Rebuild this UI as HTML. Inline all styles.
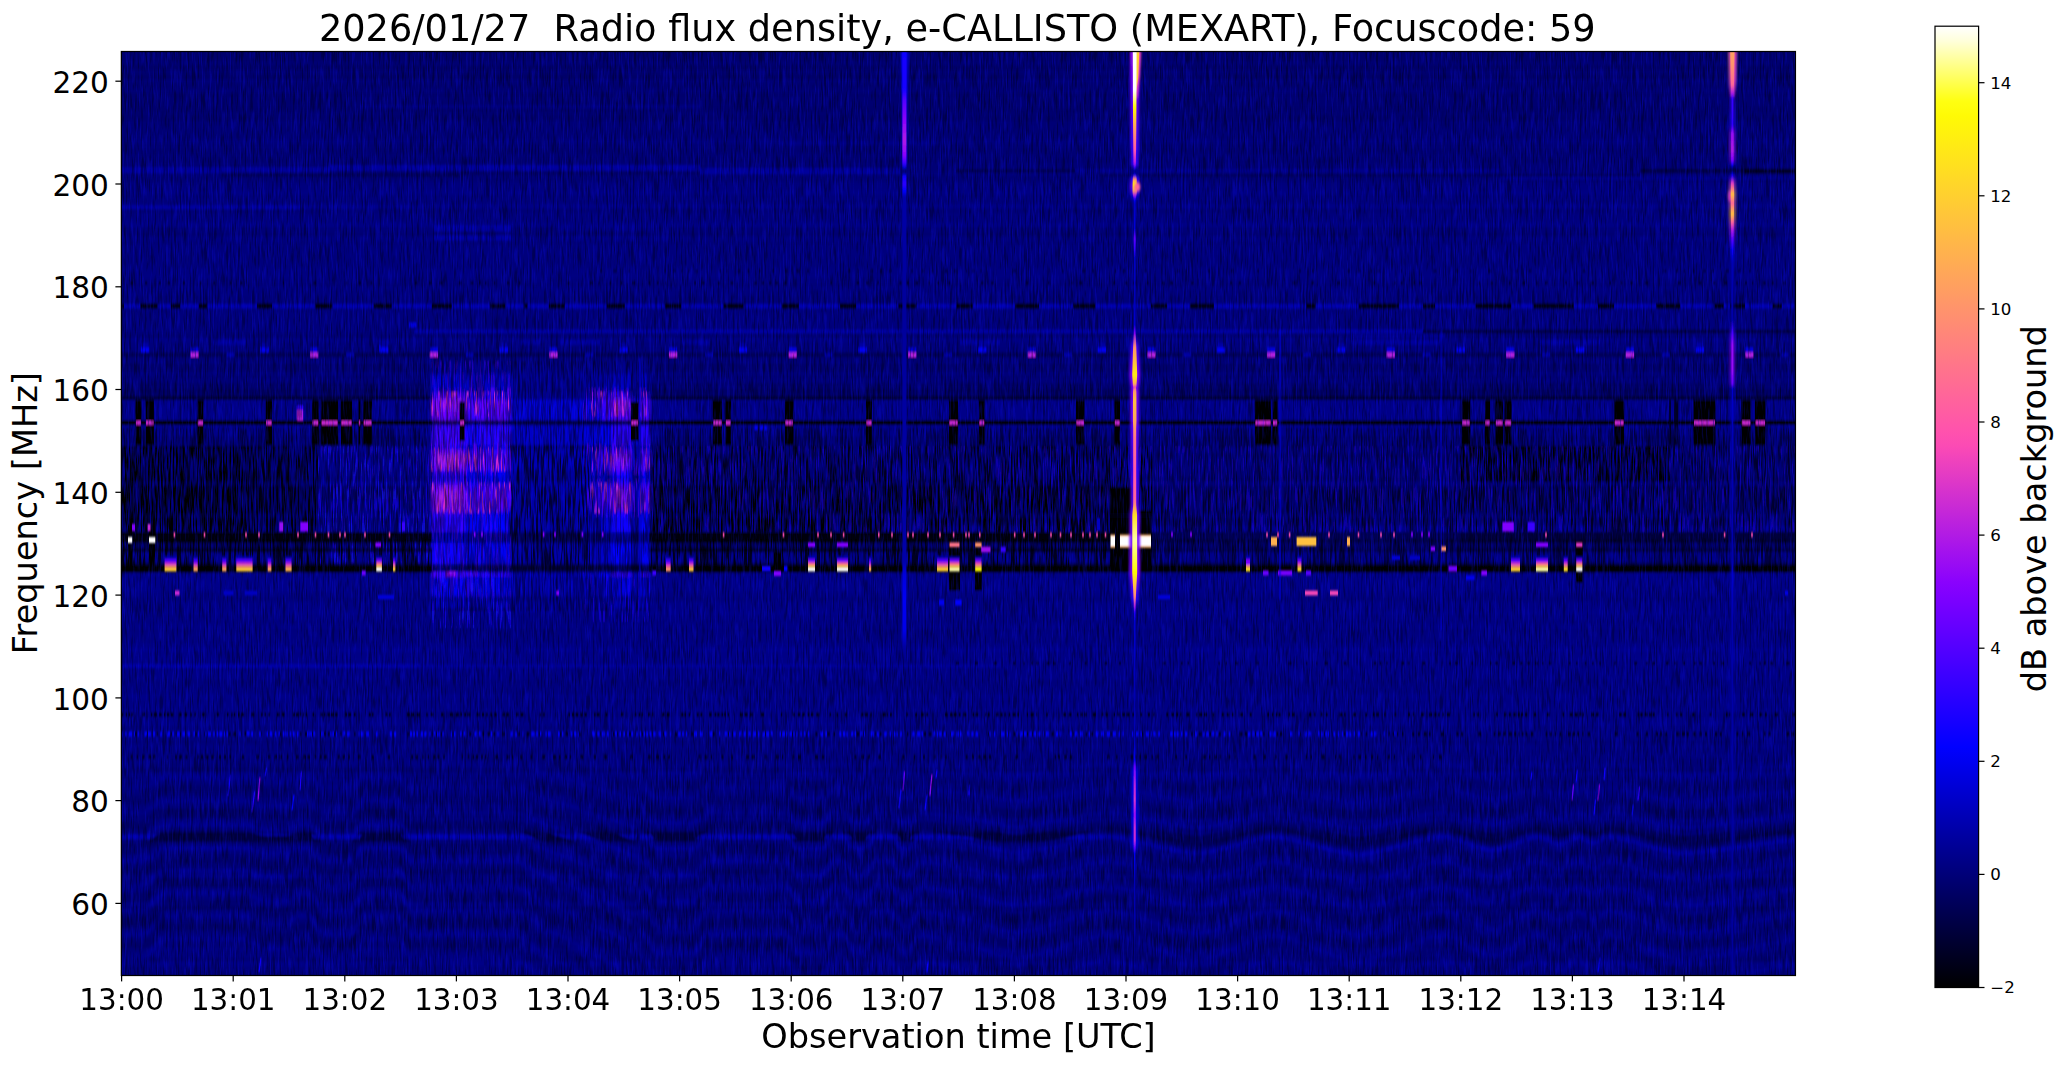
<!DOCTYPE html>
<html lang="en"><head><meta charset="utf-8"><title>e-CALLISTO MEXART spectrogram</title>
<style>html,body{margin:0;padding:0;background:#fff}svg{display:block}text{font-family:"DejaVu Sans","Liberation Sans",sans-serif;fill:#000}</style></head><body>
<svg width="2066" height="1067" viewBox="0 0 2066 1067">
<rect width="2066" height="1067" fill="#fff"/>
<defs>
<linearGradient id="cb" x1="0" y1="0" x2="0" y2="1"><stop offset="0.0000" stop-color="#ffffff"/><stop offset="0.0156" stop-color="#ffffda"/><stop offset="0.0312" stop-color="#ffffa7"/><stop offset="0.0469" stop-color="#ffff75"/><stop offset="0.0625" stop-color="#ffff43"/><stop offset="0.0781" stop-color="#ffff11"/><stop offset="0.0938" stop-color="#fffa05"/><stop offset="0.1094" stop-color="#fff20d"/><stop offset="0.1250" stop-color="#ffea15"/><stop offset="0.1406" stop-color="#ffe21d"/><stop offset="0.1562" stop-color="#ffda25"/><stop offset="0.1719" stop-color="#ffd22d"/><stop offset="0.1875" stop-color="#ffca35"/><stop offset="0.2031" stop-color="#ffc23d"/><stop offset="0.2188" stop-color="#ffba45"/><stop offset="0.2344" stop-color="#ffb24d"/><stop offset="0.2500" stop-color="#ffaa55"/><stop offset="0.2656" stop-color="#ffa25d"/><stop offset="0.2812" stop-color="#ff9a65"/><stop offset="0.2969" stop-color="#ff926d"/><stop offset="0.3125" stop-color="#ff8a75"/><stop offset="0.3281" stop-color="#ff827d"/><stop offset="0.3438" stop-color="#ff7a85"/><stop offset="0.3594" stop-color="#ff728d"/><stop offset="0.3750" stop-color="#ff6a95"/><stop offset="0.3906" stop-color="#ff629d"/><stop offset="0.4062" stop-color="#ff5aa5"/><stop offset="0.4219" stop-color="#ff52ad"/><stop offset="0.4375" stop-color="#fb4ab5"/><stop offset="0.4531" stop-color="#ee42bd"/><stop offset="0.4688" stop-color="#e23ac5"/><stop offset="0.4844" stop-color="#d532cd"/><stop offset="0.5000" stop-color="#c92ad5"/><stop offset="0.5156" stop-color="#bc22dd"/><stop offset="0.5312" stop-color="#b01ae5"/><stop offset="0.5469" stop-color="#a312ed"/><stop offset="0.5625" stop-color="#970af5"/><stop offset="0.5781" stop-color="#8a02fd"/><stop offset="0.5938" stop-color="#7e00ff"/><stop offset="0.6094" stop-color="#7100ff"/><stop offset="0.6250" stop-color="#6500ff"/><stop offset="0.6406" stop-color="#5800ff"/><stop offset="0.6562" stop-color="#4c00ff"/><stop offset="0.6719" stop-color="#3f00ff"/><stop offset="0.6875" stop-color="#3300ff"/><stop offset="0.7031" stop-color="#2600ff"/><stop offset="0.7188" stop-color="#1a00ff"/><stop offset="0.7344" stop-color="#0d00ff"/><stop offset="0.7500" stop-color="#0100ff"/><stop offset="0.7656" stop-color="#0000f0"/><stop offset="0.7812" stop-color="#0000e0"/><stop offset="0.7969" stop-color="#0000d0"/><stop offset="0.8125" stop-color="#0000c0"/><stop offset="0.8281" stop-color="#0000b0"/><stop offset="0.8438" stop-color="#0000a0"/><stop offset="0.8594" stop-color="#000090"/><stop offset="0.8750" stop-color="#000080"/><stop offset="0.8906" stop-color="#000070"/><stop offset="0.9062" stop-color="#000060"/><stop offset="0.9219" stop-color="#000050"/><stop offset="0.9375" stop-color="#000040"/><stop offset="0.9531" stop-color="#000030"/><stop offset="0.9688" stop-color="#000020"/><stop offset="0.9844" stop-color="#000010"/><stop offset="1.0000" stop-color="#000000"/></linearGradient>
<filter id="nzD" x="0" y="0" width="1" height="1" color-interpolation-filters="sRGB"><feTurbulence type="fractalNoise" baseFrequency="0.6 0.045" numOctaves="2" seed="3"/><feColorMatrix type="matrix" values="0 0 0 0 0  0 0 0 0 0  0 0 0 0 0  5 0 0 0 -2.45"/></filter>
<filter id="nzB" x="0" y="0" width="1" height="1" color-interpolation-filters="sRGB"><feTurbulence type="fractalNoise" baseFrequency="0.6 0.045" numOctaves="2" seed="11"/><feColorMatrix type="matrix" values="0 0 0 0 0.06  0 0 0 0 0.06  0 0 0 0 1  0 5 0 0 -2.5"/></filter>
<filter id="nzK" x="0" y="0" width="1" height="1" color-interpolation-filters="sRGB"><feTurbulence type="fractalNoise" baseFrequency="0.6 0.035" numOctaves="2" seed="23"/><feColorMatrix type="matrix" values="0 0 0 0 0  0 0 0 0 0  0 0 0 0 0  7 0 0 0 -3.25"/></filter>
<filter id="nzK2" x="0" y="0" width="1" height="1" color-interpolation-filters="sRGB"><feTurbulence type="fractalNoise" baseFrequency="0.6 0.03" numOctaves="2" seed="29"/><feColorMatrix type="matrix" values="0 0 0 0 0  0 0 0 0 0  0 0 0 0 0.02  0 0 7 0 -3.4"/></filter>
<filter id="nzL" x="0" y="0" width="1" height="1" color-interpolation-filters="sRGB"><feTurbulence type="fractalNoise" baseFrequency="0.6 0.035" numOctaves="2" seed="31"/><feColorMatrix type="matrix" values="0 0 0 0 0.1  0 0 0 0 0.05  0 0 0 0 1  0 7 0 0 -3.6"/></filter>
<filter id="nzP" x="0" y="0" width="1" height="1" color-interpolation-filters="sRGB"><feTurbulence type="fractalNoise" baseFrequency="0.5 0.04" numOctaves="2" seed="41"/><feColorMatrix type="matrix" values="0 0 0 0 0.9  0 0 0 0 0.2  0 0 0 0 0.8  0 7 0 0 -3.7"/></filter>
<filter id="nzU" x="0" y="0" width="1" height="1" color-interpolation-filters="sRGB"><feTurbulence type="fractalNoise" baseFrequency="0.5 0.035" numOctaves="2" seed="43"/><feColorMatrix type="matrix" values="0 0 0 0 0.4  0 0 0 0 0.0  0 0 0 0 1  0 0 7 0 -3.5"/></filter>
<filter id="b2" x="-0.5" y="-0.5" width="2" height="2"><feGaussianBlur stdDeviation="1.2"/></filter>
<filter id="b1" x="-0.5" y="-0.5" width="2" height="2"><feGaussianBlur stdDeviation="0.6"/></filter>
<filter id="bx" x="-1" y="-0.1" width="3" height="1.2"><feGaussianBlur stdDeviation="1.1 2.5"/></filter>
<filter id="bw" x="-2" y="-0.1" width="5" height="1.2"><feGaussianBlur stdDeviation="3 4"/></filter>
<clipPath id="pc"><rect x="121.35" y="51.5" width="1674.1" height="924.0"/></clipPath>
<filter id="gb" filterUnits="userSpaceOnUse" x="100" y="30" width="1720" height="970"><feGaussianBlur stdDeviation="0.45 1.25"/></filter>
<filter id="bp" x="-0.05" y="-0.05" width="1.1" height="1.1"><feGaussianBlur stdDeviation="1.6 0.8"/></filter>
<polyline id="wv" points="115,0.0 121,0.0 127,0.0 133,0.0 139,0.0 145,-0.8 151,-4.4 157,-8.7 163,-11.8 169,-12.0 175,-12.0 181,-12.0 187,-12.0 193,-12.0 199,-12.0 205,-12.0 211,-12.0 217,-12.0 223,-12.0 229,-12.0 235,-12.0 241,-12.0 247,-12.0 253,-10.2 259,-7.7 265,-7.0 271,-7.0 277,-7.0 283,-7.0 289,-7.0 295,-11.1 301,-12.0 307,-12.0 313,-10.6 319,-0.6 325,0.0 331,0.0 337,0.0 343,0.0 349,0.0 355,-1.4 361,-11.4 367,-12.0 373,-12.0 379,-12.0 385,-12.0 391,-12.0 397,-12.0 403,-9.4 409,0.0 415,0.0 421,0.0 427,0.0 433,0.0 439,0.0 445,0.0 451,0.0 457,0.0 463,0.0 469,0.0 475,0.0 481,0.0 487,0.0 493,0.0 499,0.0 505,0.0 511,0.0 517,0.7 523,2.7 529,5.3 535,8.2 541,11.2 547,13.9 553,16.3 559,17.9 565,19.4 571,21.8 577,24.7 583,27.7 589,30.5 595,32.8 601,34.2 607,35.9 613,38.1 619,40.7 625,43.5 631,46.0 637,48.0" fill="none" stroke-linejoin="round" vector-effect="non-scaling-stroke"/>
<polyline id="wv2" points="640,0.0 646,0.7 652,9.0 658,12.0 664,12.0 670,12.0 676,12.0 682,12.0 688,12.0 694,12.0 700,6.7 706,0.0 712,0.0 718,0.0 724,0.0 730,0.0 736,0.0 742,0.0 748,0.0 754,0.0 760,0.0 766,0.0 772,0.0 778,0.0 784,0.0 790,2.4 796,12.0 802,12.0 808,12.0 814,12.0 820,12.0 826,9.6 832,0.0 838,0.0 844,0.0 850,9.1 856,12.0 862,12.0 868,9.1 874,0.0 880,0.0 886,0.0 892,0.0 898,9.1 904,12.0 910,12.0 916,3.5 922,0.3 928,1.1 934,2.0 940,3.0 946,3.9 952,4.7 958,5.2 964,5.9 970,6.9 976,8.1 982,9.5 988,10.8 994,12.2 1000,13.5 1006,14.6 1012,15.5 1018,15.9 1024,15.3 1030,14.5 1036,13.5 1042,12.4 1048,11.2 1054,9.9 1060,8.6 1066,7.2 1072,5.9 1078,4.6 1084,3.4 1090,2.3 1096,1.4 1102,0.6" fill="none" stroke-linejoin="round" vector-effect="non-scaling-stroke"/>
<polyline id="wv3" points="1100,0.8 1106,0.2 1112,0.4 1118,1.2 1124,2.1 1130,3.3 1136,4.5 1142,5.9 1148,7.3 1154,8.7 1160,10.2 1166,11.6 1172,12.9 1178,14.1 1184,15.2 1190,16.1 1196,16.8 1202,16.5 1208,15.5 1214,14.3 1220,12.8 1226,11.2 1232,9.5 1238,7.8 1244,6.1 1250,4.4 1256,3.0 1262,1.7 1268,0.6 1274,0.1 1280,0.9 1286,1.9 1292,3.1 1298,4.4 1304,5.9 1310,7.5 1316,9.1 1322,10.7 1328,12.3 1334,13.8 1340,15.1 1346,16.3 1352,17.3 1358,18.0 1364,17.3 1370,16.3 1376,15.1 1382,13.8 1388,12.3 1394,10.7 1400,9.1 1406,7.5 1412,5.9 1418,4.4 1424,3.1 1430,1.9 1436,0.9 1442,0.1 1448,0.8 1454,2.3 1460,4.2 1466,6.3 1472,8.4 1478,10.4 1484,12.2 1490,13.5 1496,13.5 1502,11.9 1508,9.9 1514,7.6 1520,5.2 1526,3.0 1532,1.2 1538,0.0 1544,1.8 1550,4.5 1556,7.0 1562,7.4 1568,4.6 1574,1.4 1580,0.6 1586,3.8 1592,6.7 1598,5.0 1604,1.5 1610,0.2 1616,1.1 1622,2.3 1628,3.7 1634,5.2 1640,6.9 1646,8.6 1652,10.4 1658,12.0 1664,13.6 1670,14.9 1676,16.1 1682,16.9 1688,16.7 1694,16.2 1700,15.6 1706,15.0 1712,14.3 1718,13.5 1724,12.6 1730,11.7 1736,10.8 1742,9.9 1748,9.0 1754,8.1 1760,7.2 1766,6.4 1772,5.6 1778,4.9 1784,4.3 1790,3.7 1796,3.2 1802,3.0" fill="none" stroke-linejoin="round" vector-effect="non-scaling-stroke"/>
<linearGradient id="wvg" gradientUnits="userSpaceOnUse" x1="0" y1="750" x2="0" y2="980"><stop offset="0" stop-color="#000"/><stop offset="0.08" stop-color="#666"/><stop offset="0.3" stop-color="#aaa"/><stop offset="0.37" stop-color="#fff"/><stop offset="0.45" stop-color="#bbb"/><stop offset="1" stop-color="#999"/></linearGradient>
<mask id="wvm" maskUnits="userSpaceOnUse" x="121.35" y="740" width="1674.1" height="260"><rect x="121.35" y="740" width="1674.1" height="260" fill="url(#wvg)"/></mask>
<linearGradient id="wvm2g" gradientUnits="userSpaceOnUse" x1="0" y1="830.5" x2="0" y2="843"><stop offset="0" stop-color="#000"/><stop offset="0.200" stop-color="#fff"/><stop offset="0.800" stop-color="#fff"/><stop offset="1" stop-color="#000"/></linearGradient>
<mask id="wvm2" maskUnits="userSpaceOnUse" x="121.35" y="820" width="1674.1" height="40"><rect x="121.35" y="820" width="1674.1" height="40" fill="url(#wvm2g)"/></mask>
<linearGradient id="wvm3g" gradientUnits="userSpaceOnUse" x1="0" y1="833.6" x2="0" y2="840"><stop offset="0" stop-color="#000"/><stop offset="0.219" stop-color="#fff"/><stop offset="0.781" stop-color="#fff"/><stop offset="1" stop-color="#000"/></linearGradient>
<mask id="wvm3" maskUnits="userSpaceOnUse" x="121.35" y="820" width="1674.1" height="40"><rect x="121.35" y="820" width="1674.1" height="40" fill="url(#wvm3g)"/></mask>
<linearGradient id="g9" gradientUnits="userSpaceOnUse" x1="0" y1="51.5" x2="0" y2="975.55"><stop offset="-0.0005" stop-color="#ffffff" stop-opacity="1"/><stop offset="0.0417" stop-color="#ffffff" stop-opacity="1"/><stop offset="0.0601" stop-color="#fffc03" stop-opacity="1"/><stop offset="0.0828" stop-color="#ffa25d" stop-opacity="1"/><stop offset="0.1066" stop-color="#ff56a9" stop-opacity="1"/><stop offset="0.1207" stop-color="#b01ae5" stop-opacity="1"/><stop offset="0.1261" stop-color="#2300ff" stop-opacity="1"/><stop offset="0.1293" stop-color="#000094" stop-opacity="0"/><stop offset="0.1337" stop-color="#0a00ff" stop-opacity="1"/><stop offset="0.1380" stop-color="#ff847b" stop-opacity="1"/><stop offset="0.1434" stop-color="#fffc03" stop-opacity="1"/><stop offset="0.1499" stop-color="#ffb04f" stop-opacity="1"/><stop offset="0.1553" stop-color="#b01ae5" stop-opacity="1"/><stop offset="0.1596" stop-color="#0a00ff" stop-opacity="1"/><stop offset="0.1650" stop-color="#0000c4" stop-opacity="1"/><stop offset="0.1910" stop-color="#0000d8" stop-opacity="1"/><stop offset="0.2018" stop-color="#5b00ff" stop-opacity="1"/><stop offset="0.2148" stop-color="#2d00ff" stop-opacity="1"/><stop offset="0.2235" stop-color="#0000c4" stop-opacity="1"/><stop offset="0.2689" stop-color="#0000b8" stop-opacity="1"/><stop offset="0.2960" stop-color="#0000d0" stop-opacity="1"/><stop offset="0.3046" stop-color="#8100ff" stop-opacity="1"/><stop offset="0.3198" stop-color="#ff926d" stop-opacity="1"/><stop offset="0.3501" stop-color="#ffec13" stop-opacity="1"/><stop offset="0.3598" stop-color="#ffb04f" stop-opacity="1"/><stop offset="0.3631" stop-color="#df38c7" stop-opacity="1"/><stop offset="0.3663" stop-color="#ff926d" stop-opacity="1"/><stop offset="0.3771" stop-color="#ffc03f" stop-opacity="1"/><stop offset="0.4020" stop-color="#ffa25d" stop-opacity="1"/><stop offset="0.4204" stop-color="#ff748b" stop-opacity="1"/><stop offset="0.4529" stop-color="#ff56a9" stop-opacity="1"/><stop offset="0.4854" stop-color="#ff6699" stop-opacity="1"/><stop offset="0.5016" stop-color="#ffde21" stop-opacity="1"/><stop offset="0.5287" stop-color="#ffffa7" stop-opacity="1"/><stop offset="0.5633" stop-color="#fffc03" stop-opacity="1"/><stop offset="0.5773" stop-color="#ffc03f" stop-opacity="1"/><stop offset="0.5903" stop-color="#ff847b" stop-opacity="1"/><stop offset="0.6001" stop-color="#b01ae5" stop-opacity="1"/><stop offset="0.6066" stop-color="#2300ff" stop-opacity="1"/><stop offset="0.6174" stop-color="#0000cc" stop-opacity="1"/><stop offset="0.6531" stop-color="#0000c4" stop-opacity="1"/><stop offset="0.7018" stop-color="#0000ac" stop-opacity="1"/><stop offset="0.7451" stop-color="#0000b4" stop-opacity="1"/><stop offset="0.7667" stop-color="#0000f0" stop-opacity="1"/><stop offset="0.7743" stop-color="#6800ff" stop-opacity="1"/><stop offset="0.7938" stop-color="#b920df" stop-opacity="1"/><stop offset="0.8100" stop-color="#d532cd" stop-opacity="1"/><stop offset="0.8263" stop-color="#970af5" stop-opacity="1"/><stop offset="0.8403" stop-color="#c92ad5" stop-opacity="1"/><stop offset="0.8533" stop-color="#c92ad5" stop-opacity="1"/><stop offset="0.8620" stop-color="#5200ff" stop-opacity="1"/><stop offset="0.8674" stop-color="#0000f0" stop-opacity="1"/><stop offset="0.8966" stop-color="#0000b8" stop-opacity="1"/><stop offset="0.9507" stop-color="#0000a8" stop-opacity="1"/><stop offset="0.9994" stop-color="#000094" stop-opacity="0"/></linearGradient>
<linearGradient id="g9h" gradientUnits="userSpaceOnUse" x1="0" y1="51.5" x2="0" y2="975.55"><stop offset="-0.0005" stop-color="#970af5" stop-opacity="1"/><stop offset="0.0471" stop-color="#6800ff" stop-opacity="1"/><stop offset="0.1228" stop-color="#2d00ff" stop-opacity="1"/><stop offset="0.1293" stop-color="#000090" stop-opacity="0"/><stop offset="0.1369" stop-color="#2300ff" stop-opacity="1"/><stop offset="0.1456" stop-color="#6800ff" stop-opacity="1"/><stop offset="0.1575" stop-color="#0000d0" stop-opacity="1"/><stop offset="0.1661" stop-color="#000094" stop-opacity="0"/><stop offset="0.3014" stop-color="#000094" stop-opacity="0"/><stop offset="0.3176" stop-color="#3900ff" stop-opacity="1"/><stop offset="0.3501" stop-color="#8100ff" stop-opacity="1"/><stop offset="0.4020" stop-color="#6800ff" stop-opacity="1"/><stop offset="0.4529" stop-color="#3900ff" stop-opacity="1"/><stop offset="0.5070" stop-color="#6800ff" stop-opacity="1"/><stop offset="0.5665" stop-color="#8100ff" stop-opacity="1"/><stop offset="0.5936" stop-color="#2300ff" stop-opacity="1"/><stop offset="0.6098" stop-color="#000094" stop-opacity="0"/><stop offset="0.7667" stop-color="#000094" stop-opacity="0"/><stop offset="0.7776" stop-color="#0000e4" stop-opacity="1"/><stop offset="0.8587" stop-color="#0000e4" stop-opacity="1"/><stop offset="0.8695" stop-color="#000094" stop-opacity="0"/><stop offset="0.9994" stop-color="#000094" stop-opacity="0"/></linearGradient>
<linearGradient id="g14" gradientUnits="userSpaceOnUse" x1="0" y1="51.5" x2="0" y2="975.55"><stop offset="-0.0005" stop-color="#ffa25d" stop-opacity="1"/><stop offset="0.0146" stop-color="#ff926d" stop-opacity="1"/><stop offset="0.0363" stop-color="#ff6699" stop-opacity="1"/><stop offset="0.0449" stop-color="#b01ae5" stop-opacity="1"/><stop offset="0.0503" stop-color="#3900ff" stop-opacity="1"/><stop offset="0.0795" stop-color="#2d00ff" stop-opacity="1"/><stop offset="0.0882" stop-color="#970af5" stop-opacity="1"/><stop offset="0.1066" stop-color="#b01ae5" stop-opacity="1"/><stop offset="0.1174" stop-color="#8100ff" stop-opacity="1"/><stop offset="0.1228" stop-color="#0a00ff" stop-opacity="1"/><stop offset="0.1272" stop-color="#000090" stop-opacity="0"/><stop offset="0.1337" stop-color="#0000fc" stop-opacity="1"/><stop offset="0.1423" stop-color="#df38c7" stop-opacity="1"/><stop offset="0.1499" stop-color="#ff847b" stop-opacity="1"/><stop offset="0.1542" stop-color="#ffc03f" stop-opacity="1"/><stop offset="0.1640" stop-color="#ff6699" stop-opacity="1"/><stop offset="0.1759" stop-color="#ffc03f" stop-opacity="1"/><stop offset="0.1845" stop-color="#ff6699" stop-opacity="1"/><stop offset="0.1932" stop-color="#b01ae5" stop-opacity="1"/><stop offset="0.2040" stop-color="#5200ff" stop-opacity="1"/><stop offset="0.2148" stop-color="#0a00ff" stop-opacity="1"/><stop offset="0.2278" stop-color="#0000b4" stop-opacity="1"/><stop offset="0.2906" stop-color="#0000a8" stop-opacity="1"/><stop offset="0.3025" stop-color="#3900ff" stop-opacity="1"/><stop offset="0.3176" stop-color="#970af5" stop-opacity="1"/><stop offset="0.3447" stop-color="#970af5" stop-opacity="1"/><stop offset="0.3598" stop-color="#6800ff" stop-opacity="1"/><stop offset="0.3642" stop-color="#0000cc" stop-opacity="1"/><stop offset="0.4204" stop-color="#0000b4" stop-opacity="1"/><stop offset="0.5503" stop-color="#0000ac" stop-opacity="1"/><stop offset="0.5665" stop-color="#0000cc" stop-opacity="1"/><stop offset="0.6152" stop-color="#0000ac" stop-opacity="1"/><stop offset="0.8100" stop-color="#0000a0" stop-opacity="1"/><stop offset="0.9994" stop-color="#00009c" stop-opacity="1"/></linearGradient>
<linearGradient id="g7" gradientUnits="userSpaceOnUse" x1="0" y1="51.5" x2="0" y2="975.55"><stop offset="-0.0005" stop-color="#1000ff" stop-opacity="1"/><stop offset="0.0417" stop-color="#1a00ff" stop-opacity="1"/><stop offset="0.0525" stop-color="#5200ff" stop-opacity="1"/><stop offset="0.0741" stop-color="#8a02fd" stop-opacity="1"/><stop offset="0.0958" stop-color="#b01ae5" stop-opacity="1"/><stop offset="0.1120" stop-color="#8a02fd" stop-opacity="1"/><stop offset="0.1207" stop-color="#3900ff" stop-opacity="1"/><stop offset="0.1261" stop-color="#0000d0" stop-opacity="1"/><stop offset="0.1293" stop-color="#000094" stop-opacity="0"/><stop offset="0.1347" stop-color="#0a00ff" stop-opacity="1"/><stop offset="0.1434" stop-color="#2d00ff" stop-opacity="1"/><stop offset="0.1510" stop-color="#0000fc" stop-opacity="1"/><stop offset="0.1575" stop-color="#0000a8" stop-opacity="1"/><stop offset="0.2689" stop-color="#00009c" stop-opacity="1"/><stop offset="0.5503" stop-color="#0000a8" stop-opacity="1"/><stop offset="0.5665" stop-color="#0000dc" stop-opacity="1"/><stop offset="0.5936" stop-color="#0000f4" stop-opacity="1"/><stop offset="0.6260" stop-color="#0000e8" stop-opacity="1"/><stop offset="0.6390" stop-color="#0000b8" stop-opacity="1"/><stop offset="0.6585" stop-color="#000094" stop-opacity="0"/><stop offset="0.9994" stop-color="#000094" stop-opacity="0"/></linearGradient>
</defs>
<g id="spec">
<rect x="121.35" y="51.5" width="1674.1" height="924.0" fill="#000088"/>
<g clip-path="url(#pc)">
<g filter="url(#gb)">
<rect x="106.3" y="36.5" width="1704.1" height="954.0" fill="#000070"/>
<rect x="121.3" y="182.0" width="1674.1" height="176.0" fill="#00007c"/>
<rect x="121.3" y="120.0" width="1674.1" height="62.0" fill="#000074"/>
<rect x="121.3" y="167.2" width="208.7" height="5.8" fill="#000098"/>
<rect x="330.0" y="165.0" width="370.0" height="5.8" fill="#00009c"/>
<rect x="700.0" y="167.8" width="200.0" height="6.2" fill="#000098"/>
<rect x="222.0" y="172.6" width="238.0" height="4.4" fill="#000058"/>
<rect x="460.0" y="171.5" width="240.0" height="4.0" fill="#000060"/>
<rect x="956.0" y="169.2" width="119.0" height="3.6" fill="#000054"/>
<rect x="1075.0" y="168.8" width="425.0" height="3.7" fill="#000088"/>
<rect x="1100.0" y="173.5" width="540.0" height="3.5" fill="#00005c"/>
<rect x="1640.0" y="168.8" width="120.0" height="4.7" fill="#000048"/>
<rect x="1745.0" y="168.8" width="50.5" height="5.0" fill="#000024"/>
<rect x="1500.0" y="176.5" width="295.5" height="3.5" fill="#000088"/>
<rect x="121.3" y="205.5" width="178.7" height="4.0" fill="#000098"/>
<rect x="300.0" y="205.5" width="120.0" height="4.0" fill="#000084"/>
<rect x="434.0" y="225.5" width="77.0" height="6.0" fill="#0000a4"/>
<rect x="434.0" y="235.0" width="77.0" height="5.5" fill="#0000a0"/>
<rect x="560.0" y="226.0" width="90.0" height="5.0" fill="#000088"/>
<rect x="560.0" y="235.5" width="90.0" height="4.5" fill="#000084"/>
<rect x="360.0" y="105.0" width="340.0" height="3.5" fill="#000080"/>
<rect x="780.0" y="142.0" width="160.0" height="3.5" fill="#000080"/>
<rect x="121.3" y="303.8" width="1674.1" height="4.6" fill="#0000ac"/>
<rect x="140.5" y="303.4" width="17.0" height="5.4" fill="#000014"/>
<rect x="198.8" y="303.4" width="8.0" height="5.4" fill="#000014"/>
<rect x="257.1" y="303.4" width="15.0" height="5.4" fill="#000014"/>
<rect x="315.4" y="303.4" width="17.0" height="5.4" fill="#000014"/>
<rect x="373.7" y="303.4" width="18.0" height="5.4" fill="#000014"/>
<rect x="432.0" y="303.4" width="20.0" height="5.4" fill="#000014"/>
<rect x="490.3" y="303.4" width="15.0" height="5.4" fill="#000014"/>
<rect x="548.6" y="303.4" width="16.0" height="5.4" fill="#000014"/>
<rect x="606.9" y="303.4" width="18.0" height="5.4" fill="#000014"/>
<rect x="665.2" y="303.4" width="16.0" height="5.4" fill="#000014"/>
<rect x="723.5" y="303.4" width="20.0" height="5.4" fill="#000014"/>
<rect x="781.8" y="303.4" width="17.0" height="5.4" fill="#000014"/>
<rect x="840.1" y="303.4" width="16.0" height="5.4" fill="#000014"/>
<rect x="898.4" y="303.4" width="18.0" height="5.4" fill="#000014"/>
<rect x="956.7" y="303.4" width="16.0" height="5.4" fill="#000014"/>
<rect x="1015.0" y="303.4" width="24.0" height="5.4" fill="#000014"/>
<rect x="1073.3" y="303.4" width="22.0" height="5.4" fill="#000014"/>
<rect x="1189.9" y="303.4" width="24.0" height="5.4" fill="#000014"/>
<rect x="1306.5" y="303.4" width="9.0" height="5.4" fill="#000014"/>
<rect x="1358.8" y="303.4" width="40.0" height="5.4" fill="#000014"/>
<rect x="1423.1" y="303.4" width="12.0" height="5.4" fill="#000014"/>
<rect x="1475.4" y="303.4" width="36.0" height="5.4" fill="#000014"/>
<rect x="1533.7" y="303.4" width="40.0" height="5.4" fill="#000014"/>
<rect x="1598.0" y="303.4" width="16.0" height="5.4" fill="#000014"/>
<rect x="1656.3" y="303.4" width="24.0" height="5.4" fill="#000014"/>
<rect x="1714.6" y="303.4" width="9.0" height="5.4" fill="#000014"/>
<rect x="1772.9" y="303.4" width="9.0" height="5.4" fill="#000014"/>
<rect x="170.8" y="303.4" width="9.2" height="5.4" fill="#00001c"/>
<rect x="524.5" y="303.4" width="3.0" height="5.4" fill="#00001c"/>
<rect x="1151.0" y="303.4" width="16.0" height="5.4" fill="#00001c"/>
<rect x="1730.0" y="303.4" width="15.0" height="5.4" fill="#00001c"/>
<rect x="121.4" y="303.4" width="2.6" height="5.4" fill="#00001c"/>
<rect x="414.0" y="329.3" width="1009.0" height="4.2" fill="#0000a0"/>
<rect x="1423.0" y="329.6" width="372.5" height="3.6" fill="#00004c"/>
<rect x="1350.0" y="334.0" width="95.0" height="4.0" fill="#000094"/>
<rect x="409.0" y="322.5" width="7.5" height="5.0" fill="#0000d8"/>
<rect x="379.0" y="344.0" width="8.0" height="8.0" fill="#0000d8"/>
<rect x="213.0" y="340.0" width="33.0" height="5.0" fill="#000098"/>
<rect x="377.0" y="340.0" width="15.0" height="5.0" fill="#000098"/>
<rect x="520.0" y="340.0" width="20.0" height="5.0" fill="#000098"/>
<rect x="560.0" y="340.0" width="40.0" height="5.0" fill="#000098"/>
<rect x="680.0" y="340.0" width="30.0" height="5.0" fill="#000098"/>
<rect x="960.0" y="340.0" width="40.0" height="5.0" fill="#000098"/>
<rect x="1350.0" y="340.0" width="90.0" height="5.0" fill="#000098"/>
<rect x="1540.0" y="340.0" width="60.0" height="5.0" fill="#000098"/>
<rect x="121.3" y="352.3" width="1674.1" height="5.0" fill="#000058"/>
<rect x="140.8" y="347.2" width="8.4" height="5.2" fill="#0000f4" filter="url(#b1)"/>
<rect x="141.5" y="342.8" width="7.0" height="4.4" fill="#0000a0"/>
<rect x="190.5" y="352.2" width="8.4" height="5.2" fill="#b920df" filter="url(#b1)"/>
<rect x="190.7" y="347.4" width="8.0" height="4.8" fill="#0000e0"/>
<rect x="226.6" y="352.4" width="8.0" height="4.8" fill="#0000a0"/>
<rect x="260.4" y="347.2" width="8.4" height="5.2" fill="#0000f4" filter="url(#b1)"/>
<rect x="261.1" y="342.8" width="7.0" height="4.4" fill="#0000a0"/>
<rect x="310.1" y="352.2" width="8.4" height="5.2" fill="#b920df" filter="url(#b1)"/>
<rect x="310.3" y="347.4" width="8.0" height="4.8" fill="#0000e0"/>
<rect x="346.2" y="352.4" width="8.0" height="4.8" fill="#0000a0"/>
<rect x="380.0" y="347.2" width="8.4" height="5.2" fill="#0000f4" filter="url(#b1)"/>
<rect x="380.7" y="342.8" width="7.0" height="4.4" fill="#0000a0"/>
<rect x="429.7" y="352.2" width="8.4" height="5.2" fill="#b920df" filter="url(#b1)"/>
<rect x="429.9" y="347.4" width="8.0" height="4.8" fill="#0000e0"/>
<rect x="465.8" y="352.4" width="8.0" height="4.8" fill="#0000a0"/>
<rect x="499.6" y="347.2" width="8.4" height="5.2" fill="#0000f4" filter="url(#b1)"/>
<rect x="500.3" y="342.8" width="7.0" height="4.4" fill="#0000a0"/>
<rect x="549.3" y="352.2" width="8.4" height="5.2" fill="#b920df" filter="url(#b1)"/>
<rect x="549.5" y="347.4" width="8.0" height="4.8" fill="#0000e0"/>
<rect x="585.4" y="352.4" width="8.0" height="4.8" fill="#0000a0"/>
<rect x="619.2" y="347.2" width="8.4" height="5.2" fill="#0000f4" filter="url(#b1)"/>
<rect x="619.9" y="342.8" width="7.0" height="4.4" fill="#0000a0"/>
<rect x="668.9" y="352.2" width="8.4" height="5.2" fill="#b920df" filter="url(#b1)"/>
<rect x="669.1" y="347.4" width="8.0" height="4.8" fill="#0000e0"/>
<rect x="705.0" y="352.4" width="8.0" height="4.8" fill="#0000a0"/>
<rect x="738.8" y="347.2" width="8.4" height="5.2" fill="#0000f4" filter="url(#b1)"/>
<rect x="739.5" y="342.8" width="7.0" height="4.4" fill="#0000a0"/>
<rect x="788.5" y="352.2" width="8.4" height="5.2" fill="#b920df" filter="url(#b1)"/>
<rect x="788.7" y="347.4" width="8.0" height="4.8" fill="#0000e0"/>
<rect x="824.6" y="352.4" width="8.0" height="4.8" fill="#0000a0"/>
<rect x="858.4" y="347.2" width="8.4" height="5.2" fill="#0000f4" filter="url(#b1)"/>
<rect x="859.1" y="342.8" width="7.0" height="4.4" fill="#0000a0"/>
<rect x="908.1" y="352.2" width="8.4" height="5.2" fill="#b920df" filter="url(#b1)"/>
<rect x="908.3" y="347.4" width="8.0" height="4.8" fill="#0000e0"/>
<rect x="944.2" y="352.4" width="8.0" height="4.8" fill="#0000a0"/>
<rect x="978.0" y="347.2" width="8.4" height="5.2" fill="#0000f4" filter="url(#b1)"/>
<rect x="978.7" y="342.8" width="7.0" height="4.4" fill="#0000a0"/>
<rect x="1027.7" y="352.2" width="8.4" height="5.2" fill="#b920df" filter="url(#b1)"/>
<rect x="1027.9" y="347.4" width="8.0" height="4.8" fill="#0000e0"/>
<rect x="1063.8" y="352.4" width="8.0" height="4.8" fill="#0000a0"/>
<rect x="1097.6" y="347.2" width="8.4" height="5.2" fill="#0000f4" filter="url(#b1)"/>
<rect x="1098.3" y="342.8" width="7.0" height="4.4" fill="#0000a0"/>
<rect x="1147.3" y="352.2" width="8.4" height="5.2" fill="#b920df" filter="url(#b1)"/>
<rect x="1147.5" y="347.4" width="8.0" height="4.8" fill="#0000e0"/>
<rect x="1183.4" y="352.4" width="8.0" height="4.8" fill="#0000a0"/>
<rect x="1217.2" y="347.2" width="8.4" height="5.2" fill="#0000f4" filter="url(#b1)"/>
<rect x="1217.9" y="342.8" width="7.0" height="4.4" fill="#0000a0"/>
<rect x="1266.9" y="352.2" width="8.4" height="5.2" fill="#b920df" filter="url(#b1)"/>
<rect x="1267.1" y="347.4" width="8.0" height="4.8" fill="#0000e0"/>
<rect x="1303.0" y="352.4" width="8.0" height="4.8" fill="#0000a0"/>
<rect x="1336.8" y="347.2" width="8.4" height="5.2" fill="#0000f4" filter="url(#b1)"/>
<rect x="1337.5" y="342.8" width="7.0" height="4.4" fill="#0000a0"/>
<rect x="1386.5" y="352.2" width="8.4" height="5.2" fill="#b920df" filter="url(#b1)"/>
<rect x="1386.7" y="347.4" width="8.0" height="4.8" fill="#0000e0"/>
<rect x="1422.6" y="352.4" width="8.0" height="4.8" fill="#0000a0"/>
<rect x="1456.4" y="347.2" width="8.4" height="5.2" fill="#0000f4" filter="url(#b1)"/>
<rect x="1457.1" y="342.8" width="7.0" height="4.4" fill="#0000a0"/>
<rect x="1506.1" y="352.2" width="8.4" height="5.2" fill="#b920df" filter="url(#b1)"/>
<rect x="1506.3" y="347.4" width="8.0" height="4.8" fill="#0000e0"/>
<rect x="1542.2" y="352.4" width="8.0" height="4.8" fill="#0000a0"/>
<rect x="1576.0" y="347.2" width="8.4" height="5.2" fill="#0000f4" filter="url(#b1)"/>
<rect x="1576.7" y="342.8" width="7.0" height="4.4" fill="#0000a0"/>
<rect x="1625.7" y="352.2" width="8.4" height="5.2" fill="#b920df" filter="url(#b1)"/>
<rect x="1625.9" y="347.4" width="8.0" height="4.8" fill="#0000e0"/>
<rect x="1661.8" y="352.4" width="8.0" height="4.8" fill="#0000a0"/>
<rect x="1695.6" y="347.2" width="8.4" height="5.2" fill="#0000f4" filter="url(#b1)"/>
<rect x="1696.3" y="342.8" width="7.0" height="4.4" fill="#0000a0"/>
<rect x="1745.3" y="352.2" width="8.4" height="5.2" fill="#b920df" filter="url(#b1)"/>
<rect x="1745.5" y="347.4" width="8.0" height="4.8" fill="#0000e0"/>
<rect x="1781.4" y="352.4" width="8.0" height="4.8" fill="#0000a0"/>
<rect x="121.3" y="357.5" width="1674.1" height="24.5" fill="#000074"/>
<rect x="121.3" y="382.0" width="1674.1" height="14.0" fill="#00006c"/>
<rect x="121.3" y="396.0" width="1674.1" height="4.0" fill="#000044"/>
<rect x="121.3" y="400.0" width="1674.1" height="20.6" fill="#000088"/>
<rect x="121.3" y="425.0" width="1674.1" height="11.0" fill="#000088"/>
<rect x="121.3" y="436.0" width="1674.1" height="10.0" fill="#00007c"/>
<rect x="121.3" y="445.5" width="1674.1" height="86.5" fill="#000074"/>
<rect x="318.0" y="445.5" width="113.6" height="86.5" fill="#000084"/>
<rect x="121.3" y="364.5" width="1674.1" height="8.0" fill="#000068"/>
<rect x="121.3" y="486.0" width="1674.1" height="14.0" fill="#000068"/>
<rect x="121.3" y="526.0" width="1674.1" height="5.5" fill="#000088"/>
<rect x="121.3" y="539.6" width="1674.1" height="8.4" fill="#00006c"/>
<rect x="121.3" y="552.2" width="1674.1" height="11.8" fill="#000088"/>
<rect x="121.3" y="572.5" width="1674.1" height="27.5" fill="#000088"/>
<rect x="121.3" y="600.0" width="1674.1" height="100.0" fill="#000084"/>
<rect x="121.3" y="700.0" width="1674.1" height="80.0" fill="#000080"/>
<rect x="121.3" y="780.0" width="1674.1" height="195.5" fill="#00007c"/>
<rect x="121.3" y="446.0" width="121.7" height="86.0" filter="url(#nzK)" opacity="1.0"/>
<rect x="121.3" y="446.0" width="121.7" height="86.0" filter="url(#nzK2)" opacity="0.5"/>
<rect x="243.0" y="446.0" width="75.0" height="86.0" filter="url(#nzK)" opacity="0.85"/>
<rect x="243.0" y="470.0" width="75.0" height="62.0" filter="url(#nzK2)" opacity="0.3"/>
<rect x="318.0" y="446.0" width="113.6" height="86.0" filter="url(#nzK)" opacity="0.3"/>
<rect x="318.0" y="446.0" width="113.6" height="118.0" filter="url(#nzL)" opacity="0.6"/>
<rect x="649.5" y="446.0" width="468.5" height="34.0" filter="url(#nzK)" opacity="0.75"/>
<rect x="649.5" y="480.0" width="468.5" height="52.0" filter="url(#nzK)" opacity="0.95"/>
<rect x="649.5" y="480.0" width="468.5" height="52.0" filter="url(#nzK2)" opacity="0.5"/>
<rect x="1118.0" y="446.0" width="34.0" height="86.0" filter="url(#nzK)" opacity="0.9"/>
<rect x="1152.0" y="446.0" width="308.0" height="44.0" filter="url(#nzK)" opacity="0.3"/>
<rect x="1152.0" y="490.0" width="308.0" height="42.0" filter="url(#nzK)" opacity="0.55"/>
<rect x="1460.0" y="446.0" width="210.0" height="36.0" filter="url(#nzK)" opacity="1.0"/>
<rect x="1460.0" y="446.0" width="210.0" height="36.0" filter="url(#nzK2)" opacity="0.85"/>
<rect x="1460.0" y="482.0" width="210.0" height="50.0" filter="url(#nzK)" opacity="0.65"/>
<rect x="1670.0" y="446.0" width="125.5" height="86.0" filter="url(#nzK)" opacity="0.55"/>
<rect x="121.3" y="384.0" width="1674.1" height="16.0" filter="url(#nzK)" opacity="0.2"/>
<rect x="121.3" y="428.0" width="310.2" height="19.0" filter="url(#nzK)" opacity="0.35"/>
<rect x="649.5" y="428.0" width="1146.0" height="19.0" filter="url(#nzK)" opacity="0.35"/>
<rect x="121.3" y="539.0" width="310.2" height="26.0" filter="url(#nzK)" opacity="0.75"/>
<rect x="649.5" y="539.0" width="502.5" height="26.0" filter="url(#nzK)" opacity="0.75"/>
<rect x="1152.0" y="539.0" width="643.5" height="26.0" filter="url(#nzK)" opacity="0.5"/>
<rect x="649.5" y="446.0" width="1146.0" height="86.0" filter="url(#nzL)" opacity="0.35"/>
<g filter="url(#bp)">
<rect x="431.6" y="361.0" width="33.7" height="13.3" fill="#000090"/>
<rect x="431.6" y="374.0" width="33.7" height="11.3" fill="#0000c8"/>
<rect x="431.6" y="385.0" width="33.7" height="7.3" fill="#0000d4"/>
<rect x="431.6" y="392.0" width="33.7" height="8.3" fill="#0d00ff"/>
<rect x="431.6" y="400.0" width="33.7" height="20.9" fill="#5b00ff"/>
<rect x="431.6" y="420.6" width="33.7" height="4.7" fill="#00000c"/>
<rect x="431.6" y="425.0" width="33.7" height="20.8" fill="#3600ff"/>
<rect x="431.6" y="445.5" width="33.7" height="4.8" fill="#0400ff"/>
<rect x="431.6" y="450.0" width="33.7" height="20.3" fill="#4900ff"/>
<rect x="431.6" y="470.0" width="33.7" height="14.3" fill="#1a00ff"/>
<rect x="431.6" y="484.0" width="33.7" height="27.3" fill="#4600ff"/>
<rect x="431.6" y="511.0" width="33.7" height="21.3" fill="#2000ff"/>
<rect x="431.6" y="532.0" width="33.7" height="11.3" fill="#0000a8"/>
<rect x="431.6" y="543.0" width="33.7" height="21.3" fill="#1000ff"/>
<rect x="431.6" y="564.0" width="33.7" height="8.7" fill="#000068"/>
<rect x="431.6" y="572.4" width="33.7" height="4.9" fill="#3c00ff"/>
<rect x="431.6" y="577.0" width="33.7" height="19.3" fill="#0000f0"/>
<rect x="431.6" y="596.0" width="33.7" height="12.3" fill="#0000b0"/>
<rect x="465.0" y="361.0" width="15.3" height="13.3" fill="#000088"/>
<rect x="465.0" y="374.0" width="15.3" height="11.3" fill="#0000b0"/>
<rect x="465.0" y="385.0" width="15.3" height="7.3" fill="#0000b8"/>
<rect x="465.0" y="392.0" width="15.3" height="8.3" fill="#0000d8"/>
<rect x="465.0" y="400.0" width="15.3" height="20.9" fill="#3000ff"/>
<rect x="465.0" y="420.6" width="15.3" height="4.7" fill="#000008"/>
<rect x="465.0" y="425.0" width="15.3" height="20.8" fill="#1000ff"/>
<rect x="465.0" y="445.5" width="15.3" height="4.8" fill="#0000d8"/>
<rect x="465.0" y="450.0" width="15.3" height="20.3" fill="#1a00ff"/>
<rect x="465.0" y="470.0" width="15.3" height="14.3" fill="#0000e8"/>
<rect x="465.0" y="484.0" width="15.3" height="27.3" fill="#1400ff"/>
<rect x="465.0" y="511.0" width="15.3" height="21.3" fill="#0000f0"/>
<rect x="465.0" y="532.0" width="15.3" height="11.3" fill="#000088"/>
<rect x="465.0" y="543.0" width="15.3" height="21.3" fill="#0000e0"/>
<rect x="465.0" y="564.0" width="15.3" height="8.7" fill="#000050"/>
<rect x="465.0" y="572.4" width="15.3" height="4.9" fill="#1000ff"/>
<rect x="465.0" y="577.0" width="15.3" height="19.3" fill="#0000cc"/>
<rect x="465.0" y="596.0" width="15.3" height="12.3" fill="#0000a0"/>
<rect x="480.0" y="361.0" width="30.7" height="13.3" fill="#00008c"/>
<rect x="480.0" y="374.0" width="30.7" height="11.3" fill="#0000b8"/>
<rect x="480.0" y="385.0" width="30.7" height="7.3" fill="#0000c0"/>
<rect x="480.0" y="392.0" width="30.7" height="8.3" fill="#0000ec"/>
<rect x="480.0" y="400.0" width="30.7" height="20.9" fill="#3f00ff"/>
<rect x="480.0" y="420.6" width="30.7" height="4.7" fill="#000008"/>
<rect x="480.0" y="425.0" width="30.7" height="20.8" fill="#2000ff"/>
<rect x="480.0" y="445.5" width="30.7" height="4.8" fill="#0000e4"/>
<rect x="480.0" y="450.0" width="30.7" height="20.3" fill="#2900ff"/>
<rect x="480.0" y="470.0" width="30.7" height="14.3" fill="#0000f8"/>
<rect x="480.0" y="484.0" width="30.7" height="27.3" fill="#2600ff"/>
<rect x="480.0" y="511.0" width="30.7" height="21.3" fill="#0100ff"/>
<rect x="480.0" y="532.0" width="30.7" height="11.3" fill="#000090"/>
<rect x="480.0" y="543.0" width="30.7" height="21.3" fill="#0000f0"/>
<rect x="480.0" y="564.0" width="30.7" height="8.7" fill="#000058"/>
<rect x="480.0" y="572.4" width="30.7" height="4.9" fill="#2000ff"/>
<rect x="480.0" y="577.0" width="30.7" height="19.3" fill="#0000d8"/>
<rect x="480.0" y="596.0" width="30.7" height="12.3" fill="#0000a8"/>
<rect x="510.4" y="361.0" width="72.9" height="13.3" fill="#000080"/>
<rect x="510.4" y="374.0" width="72.9" height="11.3" fill="#000090"/>
<rect x="510.4" y="385.0" width="72.9" height="7.3" fill="#00008c"/>
<rect x="510.4" y="392.0" width="72.9" height="8.3" fill="#000094"/>
<rect x="510.4" y="400.0" width="72.9" height="20.9" fill="#0000d8"/>
<rect x="510.4" y="420.6" width="72.9" height="4.7" fill="#000000"/>
<rect x="510.4" y="425.0" width="72.9" height="20.8" fill="#0000c4"/>
<rect x="510.4" y="445.5" width="72.9" height="4.8" fill="#00009c"/>
<rect x="510.4" y="450.0" width="72.9" height="20.3" fill="#0000b4"/>
<rect x="510.4" y="470.0" width="72.9" height="14.3" fill="#0000a0"/>
<rect x="510.4" y="484.0" width="72.9" height="27.3" fill="#0000ac"/>
<rect x="510.4" y="511.0" width="72.9" height="21.3" fill="#0000a8"/>
<rect x="510.4" y="532.0" width="72.9" height="11.3" fill="#000054"/>
<rect x="510.4" y="543.0" width="72.9" height="21.3" fill="#0000a0"/>
<rect x="510.4" y="564.0" width="72.9" height="8.7" fill="#000030"/>
<rect x="510.4" y="572.4" width="72.9" height="4.9" fill="#0000b8"/>
<rect x="510.4" y="577.0" width="72.9" height="19.3" fill="#0000a0"/>
<rect x="510.4" y="596.0" width="72.9" height="12.3" fill="#00008c"/>
<rect x="583.0" y="361.0" width="17.3" height="13.3" fill="#000080"/>
<rect x="583.0" y="374.0" width="17.3" height="11.3" fill="#000098"/>
<rect x="583.0" y="385.0" width="17.3" height="7.3" fill="#000094"/>
<rect x="583.0" y="392.0" width="17.3" height="8.3" fill="#0000a4"/>
<rect x="583.0" y="400.0" width="17.3" height="20.9" fill="#0000ec"/>
<rect x="583.0" y="420.6" width="17.3" height="4.7" fill="#000000"/>
<rect x="583.0" y="425.0" width="17.3" height="20.8" fill="#0000d4"/>
<rect x="583.0" y="445.5" width="17.3" height="4.8" fill="#0000a8"/>
<rect x="583.0" y="450.0" width="17.3" height="20.3" fill="#0000c8"/>
<rect x="583.0" y="470.0" width="17.3" height="14.3" fill="#0000b0"/>
<rect x="583.0" y="484.0" width="17.3" height="27.3" fill="#0000c0"/>
<rect x="583.0" y="511.0" width="17.3" height="21.3" fill="#0000b8"/>
<rect x="583.0" y="532.0" width="17.3" height="11.3" fill="#000060"/>
<rect x="583.0" y="543.0" width="17.3" height="21.3" fill="#0000ac"/>
<rect x="583.0" y="564.0" width="17.3" height="8.7" fill="#000038"/>
<rect x="583.0" y="572.4" width="17.3" height="4.9" fill="#0000c8"/>
<rect x="583.0" y="577.0" width="17.3" height="19.3" fill="#0000a8"/>
<rect x="583.0" y="596.0" width="17.3" height="12.3" fill="#000090"/>
<rect x="600.0" y="361.0" width="12.3" height="13.3" fill="#000084"/>
<rect x="600.0" y="374.0" width="12.3" height="11.3" fill="#0000a4"/>
<rect x="600.0" y="385.0" width="12.3" height="7.3" fill="#0000a4"/>
<rect x="600.0" y="392.0" width="12.3" height="8.3" fill="#0000bc"/>
<rect x="600.0" y="400.0" width="12.3" height="20.9" fill="#1000ff"/>
<rect x="600.0" y="420.6" width="12.3" height="4.7" fill="#000004"/>
<rect x="600.0" y="425.0" width="12.3" height="20.8" fill="#0000f0"/>
<rect x="600.0" y="445.5" width="12.3" height="4.8" fill="#0000bc"/>
<rect x="600.0" y="450.0" width="12.3" height="20.3" fill="#0000ec"/>
<rect x="600.0" y="470.0" width="12.3" height="14.3" fill="#0000c8"/>
<rect x="600.0" y="484.0" width="12.3" height="27.3" fill="#0000e4"/>
<rect x="600.0" y="511.0" width="12.3" height="21.3" fill="#0000d0"/>
<rect x="600.0" y="532.0" width="12.3" height="11.3" fill="#000070"/>
<rect x="600.0" y="543.0" width="12.3" height="21.3" fill="#0000c4"/>
<rect x="600.0" y="564.0" width="12.3" height="8.7" fill="#000044"/>
<rect x="600.0" y="572.4" width="12.3" height="4.9" fill="#0000e8"/>
<rect x="600.0" y="577.0" width="12.3" height="19.3" fill="#0000b8"/>
<rect x="600.0" y="596.0" width="12.3" height="12.3" fill="#000098"/>
<rect x="612.0" y="361.0" width="19.3" height="13.3" fill="#00008c"/>
<rect x="612.0" y="374.0" width="19.3" height="11.3" fill="#0000bc"/>
<rect x="612.0" y="385.0" width="19.3" height="7.3" fill="#0000c4"/>
<rect x="612.0" y="392.0" width="19.3" height="8.3" fill="#0000f8"/>
<rect x="612.0" y="400.0" width="19.3" height="20.9" fill="#4900ff"/>
<rect x="612.0" y="420.6" width="19.3" height="4.7" fill="#00000c"/>
<rect x="612.0" y="425.0" width="19.3" height="20.8" fill="#2900ff"/>
<rect x="612.0" y="445.5" width="19.3" height="4.8" fill="#0000f0"/>
<rect x="612.0" y="450.0" width="19.3" height="20.3" fill="#3600ff"/>
<rect x="612.0" y="470.0" width="19.3" height="14.3" fill="#0700ff"/>
<rect x="612.0" y="484.0" width="19.3" height="27.3" fill="#3000ff"/>
<rect x="612.0" y="511.0" width="19.3" height="21.3" fill="#0a00ff"/>
<rect x="612.0" y="532.0" width="19.3" height="11.3" fill="#000098"/>
<rect x="612.0" y="543.0" width="19.3" height="21.3" fill="#0000fc"/>
<rect x="612.0" y="564.0" width="19.3" height="8.7" fill="#00005c"/>
<rect x="612.0" y="572.4" width="19.3" height="4.9" fill="#2900ff"/>
<rect x="612.0" y="577.0" width="19.3" height="19.3" fill="#0000dc"/>
<rect x="612.0" y="596.0" width="19.3" height="12.3" fill="#0000a8"/>
<rect x="631.0" y="361.0" width="9.9" height="13.3" fill="#000080"/>
<rect x="631.0" y="374.0" width="9.9" height="11.3" fill="#00008c"/>
<rect x="631.0" y="385.0" width="9.9" height="7.3" fill="#000088"/>
<rect x="631.0" y="392.0" width="9.9" height="8.3" fill="#000090"/>
<rect x="631.0" y="400.0" width="9.9" height="20.9" fill="#0000d4"/>
<rect x="631.0" y="420.6" width="9.9" height="4.7" fill="#000000"/>
<rect x="631.0" y="425.0" width="9.9" height="20.8" fill="#0000c0"/>
<rect x="631.0" y="445.5" width="9.9" height="4.8" fill="#000098"/>
<rect x="631.0" y="450.0" width="9.9" height="20.3" fill="#0000ac"/>
<rect x="631.0" y="470.0" width="9.9" height="14.3" fill="#00009c"/>
<rect x="631.0" y="484.0" width="9.9" height="27.3" fill="#0000a8"/>
<rect x="631.0" y="511.0" width="9.9" height="21.3" fill="#0000a4"/>
<rect x="631.0" y="532.0" width="9.9" height="11.3" fill="#000050"/>
<rect x="631.0" y="543.0" width="9.9" height="21.3" fill="#00009c"/>
<rect x="631.0" y="564.0" width="9.9" height="8.7" fill="#00002c"/>
<rect x="631.0" y="572.4" width="9.9" height="4.9" fill="#0000b0"/>
<rect x="631.0" y="577.0" width="9.9" height="19.3" fill="#00009c"/>
<rect x="631.0" y="596.0" width="9.9" height="12.3" fill="#00008c"/>
<rect x="640.6" y="361.0" width="9.2" height="13.3" fill="#00008c"/>
<rect x="640.6" y="374.0" width="9.2" height="11.3" fill="#0000b8"/>
<rect x="640.6" y="385.0" width="9.2" height="7.3" fill="#0000c0"/>
<rect x="640.6" y="392.0" width="9.2" height="8.3" fill="#0000ec"/>
<rect x="640.6" y="400.0" width="9.2" height="20.9" fill="#3f00ff"/>
<rect x="640.6" y="420.6" width="9.2" height="4.7" fill="#000008"/>
<rect x="640.6" y="425.0" width="9.2" height="20.8" fill="#2000ff"/>
<rect x="640.6" y="445.5" width="9.2" height="4.8" fill="#0000e4"/>
<rect x="640.6" y="450.0" width="9.2" height="20.3" fill="#2900ff"/>
<rect x="640.6" y="470.0" width="9.2" height="14.3" fill="#0000f8"/>
<rect x="640.6" y="484.0" width="9.2" height="27.3" fill="#2600ff"/>
<rect x="640.6" y="511.0" width="9.2" height="21.3" fill="#0100ff"/>
<rect x="640.6" y="532.0" width="9.2" height="11.3" fill="#000090"/>
<rect x="640.6" y="543.0" width="9.2" height="21.3" fill="#0000f0"/>
<rect x="640.6" y="564.0" width="9.2" height="8.7" fill="#000058"/>
<rect x="640.6" y="572.4" width="9.2" height="4.9" fill="#2000ff"/>
<rect x="640.6" y="577.0" width="9.2" height="19.3" fill="#0000d8"/>
<rect x="640.6" y="596.0" width="9.2" height="12.3" fill="#0000a8"/>
</g>
<rect x="431.8" y="571.6" width="46.2" height="4.4" fill="#3f00ff"/>
<rect x="446.0" y="571.6" width="10.0" height="4.4" fill="#970af5"/>
<g filter="url(#bw)">
<rect x="434.0" y="394.0" width="32.0" height="20.0" fill="#8a02fd" opacity="0.7"/>
<rect x="470.0" y="394.0" width="38.0" height="20.0" fill="#6500ff" opacity="0.4"/>
<rect x="596.0" y="394.0" width="34.0" height="20.0" fill="#6e00ff" opacity="0.45"/>
<rect x="614.0" y="397.0" width="15.0" height="14.0" fill="#b01ae5" opacity="0.5"/>
<rect x="641.5" y="394.0" width="7.0" height="20.0" fill="#6e00ff" opacity="0.45"/>
<rect x="434.0" y="451.0" width="32.0" height="18.0" fill="#8a02fd" opacity="0.7"/>
<rect x="470.0" y="451.0" width="38.0" height="18.0" fill="#6500ff" opacity="0.4"/>
<rect x="596.0" y="451.0" width="34.0" height="18.0" fill="#6e00ff" opacity="0.45"/>
<rect x="614.0" y="454.0" width="15.0" height="12.0" fill="#b01ae5" opacity="0.5"/>
<rect x="641.5" y="451.0" width="7.0" height="18.0" fill="#6e00ff" opacity="0.45"/>
<rect x="434.0" y="486.0" width="32.0" height="24.0" fill="#8a02fd" opacity="0.7"/>
<rect x="470.0" y="486.0" width="38.0" height="24.0" fill="#6500ff" opacity="0.4"/>
<rect x="596.0" y="486.0" width="34.0" height="24.0" fill="#6e00ff" opacity="0.45"/>
<rect x="614.0" y="489.0" width="15.0" height="18.0" fill="#b01ae5" opacity="0.5"/>
<rect x="641.5" y="486.0" width="7.0" height="24.0" fill="#6e00ff" opacity="0.45"/>
<rect x="436.0" y="454.0" width="26.0" height="12.0" fill="#df38c7" opacity="0.55"/>
<rect x="436.0" y="490.0" width="26.0" height="18.0" fill="#df38c7" opacity="0.55"/>
<rect x="436.0" y="398.0" width="26.0" height="14.0" fill="#b01ae5" opacity="0.4"/>
</g>
<rect x="431.6" y="392.0" width="78.8" height="24.0" filter="url(#nzP)" opacity="0.85"/>
<rect x="590.0" y="392.0" width="41.0" height="24.0" filter="url(#nzP)" opacity="0.7"/>
<rect x="640.6" y="392.0" width="8.9" height="24.0" filter="url(#nzP)" opacity="0.7"/>
<rect x="431.6" y="388.0" width="78.8" height="32.0" filter="url(#nzU)" opacity="0.6"/>
<rect x="583.0" y="388.0" width="66.5" height="32.0" filter="url(#nzU)" opacity="0.5"/>
<rect x="431.6" y="448.0" width="78.8" height="23.0" filter="url(#nzP)" opacity="0.85"/>
<rect x="590.0" y="448.0" width="41.0" height="23.0" filter="url(#nzP)" opacity="0.7"/>
<rect x="640.6" y="448.0" width="8.9" height="23.0" filter="url(#nzP)" opacity="0.7"/>
<rect x="431.6" y="444.0" width="78.8" height="31.0" filter="url(#nzU)" opacity="0.6"/>
<rect x="583.0" y="444.0" width="66.5" height="31.0" filter="url(#nzU)" opacity="0.5"/>
<rect x="431.6" y="483.0" width="78.8" height="30.0" filter="url(#nzP)" opacity="0.85"/>
<rect x="590.0" y="483.0" width="41.0" height="30.0" filter="url(#nzP)" opacity="0.7"/>
<rect x="640.6" y="483.0" width="8.9" height="30.0" filter="url(#nzP)" opacity="0.7"/>
<rect x="431.6" y="479.0" width="78.8" height="38.0" filter="url(#nzU)" opacity="0.6"/>
<rect x="583.0" y="479.0" width="66.5" height="38.0" filter="url(#nzU)" opacity="0.5"/>
<rect x="431.6" y="361.0" width="78.8" height="237.0" filter="url(#nzU)" opacity="0.3"/>
<rect x="431.6" y="572.0" width="78.8" height="56.0" filter="url(#nzL)" opacity="0.55"/>
<rect x="583.0" y="572.0" width="66.5" height="50.0" filter="url(#nzL)" opacity="0.45"/>
<rect x="510.4" y="572.0" width="72.6" height="40.0" filter="url(#nzL)" opacity="0.25"/>
<rect x="431.6" y="361.0" width="217.9" height="250.0" filter="url(#nzK)" opacity="0.3"/>
<rect x="510.4" y="445.0" width="79.6" height="120.0" filter="url(#nzK)" opacity="0.5"/>
<rect x="121.3" y="420.6" width="310.2" height="4.4" fill="#000000"/>
<rect x="121.3" y="532.3" width="310.2" height="10.3" fill="#000000" opacity="0.85"/>
<rect x="121.3" y="548.0" width="310.2" height="4.2" fill="#000000" opacity="0.45"/>
<rect x="121.3" y="565.0" width="310.2" height="7.4" fill="#000000"/>
<rect x="121.3" y="562.5" width="310.2" height="2.5" fill="#000000" opacity="0.3"/>
<rect x="649.5" y="420.6" width="502.5" height="4.4" fill="#000000"/>
<rect x="649.5" y="532.3" width="502.5" height="10.3" fill="#000000" opacity="0.85"/>
<rect x="649.5" y="548.0" width="502.5" height="4.2" fill="#000000" opacity="0.45"/>
<rect x="649.5" y="565.0" width="502.5" height="7.4" fill="#000000"/>
<rect x="649.5" y="562.5" width="502.5" height="2.5" fill="#000000" opacity="0.3"/>
<rect x="1152.0" y="420.6" width="308.0" height="4.4" fill="#000000"/>
<rect x="1152.0" y="532.3" width="308.0" height="10.3" fill="#000000" opacity="0.255"/>
<rect x="1152.0" y="548.0" width="308.0" height="4.2" fill="#000000" opacity="0.135"/>
<rect x="1152.0" y="565.0" width="308.0" height="7.4" fill="#000000"/>
<rect x="1152.0" y="562.5" width="308.0" height="2.5" fill="#000000" opacity="0.3"/>
<rect x="1460.0" y="420.6" width="335.5" height="4.4" fill="#000000"/>
<rect x="1460.0" y="532.3" width="335.5" height="10.3" fill="#000000" opacity="0.4675"/>
<rect x="1460.0" y="548.0" width="335.5" height="4.2" fill="#000000" opacity="0.24750000000000003"/>
<rect x="1460.0" y="565.0" width="335.5" height="7.4" fill="#000000"/>
<rect x="1460.0" y="562.5" width="335.5" height="2.5" fill="#000000" opacity="0.3"/>
<rect x="135.6" y="400.3" width="5.6" height="45.0" fill="#000000"/>
<rect x="135.9" y="420.8" width="5.0" height="4.0" fill="#cc2cd3"/>
<rect x="145.7" y="400.3" width="8.2" height="45.0" fill="#000000"/>
<rect x="146.0" y="420.8" width="7.6" height="4.0" fill="#cc2cd3"/>
<rect x="197.5" y="400.3" width="5.9" height="45.0" fill="#000000"/>
<rect x="197.8" y="420.8" width="5.3" height="4.0" fill="#cc2cd3"/>
<rect x="265.8" y="400.3" width="6.2" height="45.0" fill="#000000"/>
<rect x="266.1" y="420.8" width="5.6" height="4.0" fill="#cc2cd3"/>
<rect x="312.2" y="400.3" width="6.4" height="45.0" fill="#000000"/>
<rect x="312.5" y="420.8" width="5.8" height="4.0" fill="#cc2cd3"/>
<rect x="321.2" y="400.3" width="16.8" height="45.0" fill="#000000"/>
<rect x="321.5" y="420.8" width="16.2" height="4.0" fill="#cc2cd3"/>
<rect x="341.0" y="400.3" width="11.0" height="45.0" fill="#000000"/>
<rect x="341.3" y="420.8" width="10.4" height="4.0" fill="#cc2cd3"/>
<rect x="358.5" y="400.3" width="2.0" height="45.0" fill="#000000"/>
<rect x="358.8" y="420.8" width="1.4" height="4.0" fill="#cc2cd3"/>
<rect x="363.3" y="400.3" width="8.7" height="45.0" fill="#000000"/>
<rect x="363.6" y="420.8" width="8.1" height="4.0" fill="#cc2cd3"/>
<rect x="713.0" y="400.3" width="9.0" height="45.0" fill="#000000"/>
<rect x="713.3" y="420.8" width="8.4" height="4.0" fill="#cc2cd3"/>
<rect x="725.5" y="400.3" width="5.5" height="45.0" fill="#000000"/>
<rect x="725.8" y="420.8" width="4.9" height="4.0" fill="#cc2cd3"/>
<rect x="785.0" y="400.3" width="8.3" height="45.0" fill="#000000"/>
<rect x="785.3" y="420.8" width="7.7" height="4.0" fill="#cc2cd3"/>
<rect x="866.0" y="400.3" width="6.0" height="45.0" fill="#000000"/>
<rect x="866.3" y="420.8" width="5.4" height="4.0" fill="#cc2cd3"/>
<rect x="949.0" y="400.3" width="9.0" height="45.0" fill="#000000"/>
<rect x="949.3" y="420.8" width="8.4" height="4.0" fill="#cc2cd3"/>
<rect x="979.0" y="400.3" width="5.6" height="45.0" fill="#000000"/>
<rect x="979.3" y="420.8" width="5.0" height="4.0" fill="#cc2cd3"/>
<rect x="1076.0" y="400.3" width="8.4" height="45.0" fill="#000000"/>
<rect x="1076.3" y="420.8" width="7.8" height="4.0" fill="#cc2cd3"/>
<rect x="1114.5" y="400.3" width="5.5" height="45.0" fill="#000000"/>
<rect x="1114.8" y="420.8" width="4.9" height="4.0" fill="#cc2cd3"/>
<rect x="1255.0" y="400.3" width="16.0" height="45.0" fill="#000000"/>
<rect x="1255.3" y="420.8" width="15.4" height="4.0" fill="#cc2cd3"/>
<rect x="1272.7" y="400.3" width="4.8" height="45.0" fill="#000000"/>
<rect x="1273.0" y="420.8" width="4.2" height="4.0" fill="#cc2cd3"/>
<rect x="1461.7" y="400.3" width="8.3" height="45.0" fill="#000000"/>
<rect x="1462.0" y="420.8" width="7.7" height="4.0" fill="#cc2cd3"/>
<rect x="1485.0" y="400.3" width="5.0" height="45.0" fill="#000000"/>
<rect x="1485.3" y="420.8" width="4.4" height="4.0" fill="#cc2cd3"/>
<rect x="1495.5" y="400.3" width="7.5" height="45.0" fill="#000000"/>
<rect x="1495.8" y="420.8" width="6.9" height="4.0" fill="#cc2cd3"/>
<rect x="1504.5" y="400.3" width="7.0" height="45.0" fill="#000000"/>
<rect x="1504.8" y="420.8" width="6.4" height="4.0" fill="#cc2cd3"/>
<rect x="1614.4" y="400.3" width="9.6" height="45.0" fill="#000000"/>
<rect x="1614.7" y="420.8" width="9.0" height="4.0" fill="#cc2cd3"/>
<rect x="1693.7" y="400.3" width="21.6" height="45.0" fill="#000000"/>
<rect x="1694.0" y="420.8" width="21.0" height="4.0" fill="#cc2cd3"/>
<rect x="1741.5" y="400.3" width="9.3" height="45.0" fill="#000000"/>
<rect x="1741.8" y="420.8" width="8.7" height="4.0" fill="#cc2cd3"/>
<rect x="1755.0" y="400.3" width="10.4" height="45.0" fill="#000000"/>
<rect x="1755.3" y="420.8" width="9.8" height="4.0" fill="#cc2cd3"/>
<rect x="459.8" y="401.7" width="4.7" height="39.3" fill="#000000"/>
<rect x="460.1" y="420.8" width="4.1" height="4.0" fill="#cc2cd3"/>
<rect x="631.0" y="401.7" width="7.4" height="39.3" fill="#000000"/>
<rect x="631.3" y="420.8" width="6.8" height="4.0" fill="#cc2cd3"/>
<rect x="1669.0" y="400.3" width="2.0" height="45.0" fill="#00001c" opacity="0.8"/>
<rect x="1674.0" y="400.3" width="4.0" height="45.0" fill="#00001c" opacity="0.8"/>
<rect x="296.7" y="410.0" width="6.5" height="10.5" fill="#b01ae5" filter="url(#b1)"/>
<rect x="296.7" y="405.5" width="6.5" height="4.5" fill="#2d00ff"/>
<rect x="754.5" y="425.5" width="3.0" height="4.5" fill="#0000ec"/>
<rect x="760.0" y="425.5" width="3.0" height="4.5" fill="#0000ec"/>
<rect x="764.5" y="425.5" width="3.0" height="4.5" fill="#0000ec"/>
<rect x="128.0" y="524.0" width="4.5" height="48.0" fill="#000000"/>
<rect x="149.0" y="524.0" width="6.0" height="48.0" fill="#000000"/>
<rect x="949.0" y="538.0" width="11.0" height="53.0" fill="#000000"/>
<rect x="975.0" y="541.0" width="6.8" height="50.0" fill="#000000"/>
<rect x="1110.5" y="487.0" width="23.5" height="85.0" fill="#000000"/>
<rect x="1138.0" y="510.0" width="13.5" height="62.0" fill="#000000"/>
<rect x="1576.0" y="541.0" width="6.6" height="42.0" fill="#000000"/>
<rect x="774.0" y="552.0" width="7.0" height="14.0" fill="#000000"/>
<rect x="121.3" y="663.8" width="298.6" height="4.2" fill="#0000a4"/>
<rect x="420.0" y="663.8" width="580.0" height="4.2" fill="#000094"/>
<path d="M121.3 712.2h1.8v4.8h-1.8zM125.6 712.2h1.3v4.8h-1.3zM128.8 712.2h1.3v4.8h-1.3zM131.2 712.2h2.1v4.8h-2.1zM142.5 712.2h2.4v4.8h-2.4zM150.9 712.2h1.5v4.8h-1.5zM154.1 712.2h2.8v4.8h-2.8zM159.2 712.2h2.5v4.8h-2.5zM163.9 712.2h1.3v4.8h-1.3zM166.7 712.2h2.6v4.8h-2.6zM170.9 712.2h2.4v4.8h-2.4zM179.3 712.2h2.3v4.8h-2.3zM184.6 712.2h2.7v4.8h-2.7zM190.4 712.2h1.4v4.8h-1.4zM194.5 712.2h1.5v4.8h-1.5zM201.9 712.2h3.0v4.8h-3.0zM216.7 712.2h2.5v4.8h-2.5zM227.0 712.2h1.8v4.8h-1.8zM231.3 712.2h1.2v4.8h-1.2zM233.9 712.2h1.4v4.8h-1.4zM238.0 712.2h1.5v4.8h-1.5zM241.3 712.2h2.9v4.8h-2.9zM251.4 712.2h2.9v4.8h-2.9zM261.2 712.2h1.5v4.8h-1.5zM264.2 712.2h1.7v4.8h-1.7zM268.2 712.2h1.7v4.8h-1.7zM276.9 712.2h2.6v4.8h-2.6zM281.8 712.2h2.6v4.8h-2.6zM292.9 712.2h2.0v4.8h-2.0zM296.1 712.2h2.5v4.8h-2.5zM299.7 712.2h1.6v4.8h-1.6zM303.1 712.2h1.3v4.8h-1.3zM305.7 712.2h1.4v4.8h-1.4zM312.4 712.2h1.7v4.8h-1.7zM320.6 712.2h2.1v4.8h-2.1zM323.9 712.2h1.4v4.8h-1.4zM326.9 712.2h2.9v4.8h-2.9zM330.8 712.2h3.1v4.8h-3.1zM335.2 712.2h2.3v4.8h-2.3zM345.3 712.2h1.7v4.8h-1.7zM348.4 712.2h2.7v4.8h-2.7zM353.9 712.2h1.9v4.8h-1.9zM368.8 712.2h2.2v4.8h-2.2zM372.1 712.2h1.3v4.8h-1.3zM385.7 712.2h1.9v4.8h-1.9zM389.1 712.2h1.6v4.8h-1.6zM407.1 712.2h2.7v4.8h-2.7zM411.2 712.2h2.8v4.8h-2.8zM416.7 712.2h3.1v4.8h-3.1zM426.2 712.2h1.5v4.8h-1.5zM430.6 712.2h2.8v4.8h-2.8zM441.2 712.2h2.3v4.8h-2.3zM449.8 712.2h3.1v4.8h-3.1zM455.8 712.2h2.9v4.8h-2.9zM460.2 712.2h1.8v4.8h-1.8zM464.3 712.2h1.7v4.8h-1.7zM467.3 712.2h3.0v4.8h-3.0zM476.6 712.2h3.0v4.8h-3.0zM481.8 712.2h2.2v4.8h-2.2zM486.1 712.2h1.6v4.8h-1.6zM490.4 712.2h1.5v4.8h-1.5zM494.5 712.2h2.3v4.8h-2.3zM502.5 712.2h2.3v4.8h-2.3zM506.4 712.2h2.7v4.8h-2.7zM516.1 712.2h2.4v4.8h-2.4zM520.7 712.2h2.6v4.8h-2.6zM539.8 712.2h1.5v4.8h-1.5zM543.3 712.2h1.3v4.8h-1.3zM568.4 712.2h1.5v4.8h-1.5zM572.0 712.2h1.9v4.8h-1.9zM575.6 712.2h2.6v4.8h-2.6zM580.5 712.2h2.1v4.8h-2.1zM584.3 712.2h2.4v4.8h-2.4zM594.2 712.2h1.4v4.8h-1.4zM596.7 712.2h2.8v4.8h-2.8zM605.6 712.2h1.7v4.8h-1.7zM620.8 712.2h2.8v4.8h-2.8zM634.8 712.2h1.7v4.8h-1.7zM638.7 712.2h1.7v4.8h-1.7zM641.7 712.2h1.3v4.8h-1.3zM648.1 712.2h2.2v4.8h-2.2zM652.1 712.2h1.2v4.8h-1.2zM661.8 712.2h2.8v4.8h-2.8zM666.8 712.2h2.9v4.8h-2.9zM681.3 712.2h2.0v4.8h-2.0zM684.5 712.2h1.5v4.8h-1.5zM688.6 712.2h1.7v4.8h-1.7zM696.8 712.2h1.8v4.8h-1.8zM700.2 712.2h2.1v4.8h-2.1zM709.2 712.2h2.3v4.8h-2.3zM714.6 712.2h1.8v4.8h-1.8zM717.4 712.2h2.0v4.8h-2.0zM721.5 712.2h1.6v4.8h-1.6zM724.1 712.2h1.7v4.8h-1.7zM727.7 712.2h1.3v4.8h-1.3zM739.8 712.2h3.0v4.8h-3.0zM744.5 712.2h3.2v4.8h-3.2zM750.2 712.2h2.5v4.8h-2.5zM761.1 712.2h2.8v4.8h-2.8zM781.0 712.2h1.3v4.8h-1.3zM792.6 712.2h2.2v4.8h-2.2zM797.6 712.2h2.7v4.8h-2.7zM802.4 712.2h2.5v4.8h-2.5zM807.6 712.2h1.7v4.8h-1.7zM810.9 712.2h2.7v4.8h-2.7zM816.2 712.2h3.2v4.8h-3.2zM829.6 712.2h1.5v4.8h-1.5zM836.6 712.2h1.3v4.8h-1.3zM844.6 712.2h2.2v4.8h-2.2zM861.2 712.2h2.1v4.8h-2.1zM864.7 712.2h3.1v4.8h-3.1zM870.1 712.2h1.5v4.8h-1.5zM882.7 712.2h3.0v4.8h-3.0zM886.8 712.2h1.2v4.8h-1.2zM890.0 712.2h1.8v4.8h-1.8zM906.4 712.2h1.8v4.8h-1.8zM915.0 712.2h2.1v4.8h-2.1zM921.2 712.2h3.1v4.8h-3.1zM925.9 712.2h2.2v4.8h-2.2zM944.8 712.2h2.7v4.8h-2.7zM950.1 712.2h2.5v4.8h-2.5zM953.7 712.2h3.1v4.8h-3.1zM958.8 712.2h1.9v4.8h-1.9zM963.3 712.2h3.2v4.8h-3.2zM972.5 712.2h1.5v4.8h-1.5zM975.5 712.2h3.0v4.8h-3.0zM985.0 712.2h1.5v4.8h-1.5zM987.7 712.2h1.9v4.8h-1.9zM995.8 712.2h2.7v4.8h-2.7zM1000.4 712.2h2.2v4.8h-2.2zM1004.4 712.2h1.3v4.8h-1.3zM1008.8 712.2h1.5v4.8h-1.5zM1012.7 712.2h2.9v4.8h-2.9zM1017.2 712.2h1.7v4.8h-1.7zM1026.9 712.2h1.2v4.8h-1.2zM1030.7 712.2h3.0v4.8h-3.0zM1036.0 712.2h1.2v4.8h-1.2zM1046.2 712.2h1.7v4.8h-1.7zM1063.1 712.2h2.8v4.8h-2.8zM1068.9 712.2h2.5v4.8h-2.5zM1076.9 712.2h1.4v4.8h-1.4zM1080.5 712.2h2.4v4.8h-2.4zM1084.3 712.2h2.4v4.8h-2.4zM1092.9 712.2h3.0v4.8h-3.0zM1101.7 712.2h1.8v4.8h-1.8zM1105.6 712.2h2.5v4.8h-2.5zM1113.7 712.2h1.3v4.8h-1.3zM1116.9 712.2h2.6v4.8h-2.6zM1122.2 712.2h2.7v4.8h-2.7zM1126.4 712.2h3.1v4.8h-3.1zM1132.3 712.2h1.7v4.8h-1.7zM1140.5 712.2h1.6v4.8h-1.6zM1147.9 712.2h2.0v4.8h-2.0zM1153.0 712.2h1.5v4.8h-1.5zM1166.3 712.2h1.9v4.8h-1.9zM1171.2 712.2h2.7v4.8h-2.7zM1176.3 712.2h2.0v4.8h-2.0zM1180.0 712.2h1.5v4.8h-1.5zM1186.4 712.2h3.1v4.8h-3.1zM1196.1 712.2h1.3v4.8h-1.3zM1199.2 712.2h3.0v4.8h-3.0zM1204.0 712.2h3.0v4.8h-3.0zM1212.8 712.2h1.3v4.8h-1.3zM1221.8 712.2h1.9v4.8h-1.9zM1226.8 712.2h2.4v4.8h-2.4zM1231.8 712.2h1.8v4.8h-1.8zM1239.8 712.2h3.1v4.8h-3.1zM1249.6 712.2h2.0v4.8h-2.0zM1267.2 712.2h1.8v4.8h-1.8zM1271.8 712.2h1.4v4.8h-1.4zM1275.8 712.2h1.7v4.8h-1.7zM1278.6 712.2h2.3v4.8h-2.3zM1288.6 712.2h1.4v4.8h-1.4zM1292.0 712.2h2.6v4.8h-2.6zM1308.9 712.2h2.3v4.8h-2.3zM1313.9 712.2h1.6v4.8h-1.6zM1320.8 712.2h1.9v4.8h-1.9zM1325.8 712.2h2.2v4.8h-2.2zM1339.6 712.2h3.0v4.8h-3.0zM1344.2 712.2h1.4v4.8h-1.4zM1353.0 712.2h2.9v4.8h-2.9zM1365.4 712.2h1.9v4.8h-1.9zM1372.9 712.2h1.6v4.8h-1.6zM1376.2 712.2h2.6v4.8h-2.6zM1384.3 712.2h1.3v4.8h-1.3zM1394.4 712.2h1.8v4.8h-1.8zM1408.1 712.2h1.9v4.8h-1.9zM1412.6 712.2h1.6v4.8h-1.6zM1421.2 712.2h3.0v4.8h-3.0zM1429.1 712.2h3.0v4.8h-3.0zM1434.5 712.2h1.9v4.8h-1.9zM1437.8 712.2h1.8v4.8h-1.8zM1442.6 712.2h1.4v4.8h-1.4zM1446.8 712.2h3.1v4.8h-3.1zM1473.2 712.2h1.6v4.8h-1.6zM1476.6 712.2h2.2v4.8h-2.2zM1496.0 712.2h1.8v4.8h-1.8zM1504.2 712.2h2.1v4.8h-2.1zM1508.6 712.2h2.2v4.8h-2.2zM1513.5 712.2h2.8v4.8h-2.8zM1517.6 712.2h2.1v4.8h-2.1zM1521.0 712.2h2.1v4.8h-2.1zM1525.1 712.2h2.2v4.8h-2.2zM1533.8 712.2h2.2v4.8h-2.2zM1546.9 712.2h2.8v4.8h-2.8zM1562.6 712.2h1.3v4.8h-1.3zM1569.8 712.2h2.8v4.8h-2.8zM1574.7 712.2h3.0v4.8h-3.0zM1579.3 712.2h2.2v4.8h-2.2zM1582.6 712.2h1.6v4.8h-1.6zM1591.2 712.2h2.8v4.8h-2.8zM1596.1 712.2h2.5v4.8h-2.5zM1619.1 712.2h2.7v4.8h-2.7zM1623.2 712.2h2.7v4.8h-2.7zM1637.6 712.2h1.2v4.8h-1.2zM1640.2 712.2h2.4v4.8h-2.4zM1644.7 712.2h3.0v4.8h-3.0zM1649.2 712.2h2.5v4.8h-2.5zM1652.7 712.2h1.9v4.8h-1.9zM1667.0 712.2h1.5v4.8h-1.5zM1675.8 712.2h1.7v4.8h-1.7zM1679.9 712.2h2.3v4.8h-2.3zM1692.1 712.2h2.3v4.8h-2.3zM1709.5 712.2h1.8v4.8h-1.8zM1725.9 712.2h1.7v4.8h-1.7zM1729.1 712.2h1.3v4.8h-1.3zM1741.9 712.2h2.8v4.8h-2.8zM1750.2 712.2h3.0v4.8h-3.0zM1759.5 712.2h2.7v4.8h-2.7zM1765.1 712.2h1.9v4.8h-1.9zM1774.9 712.2h3.2v4.8h-3.2zM1792.6 712.2h3.0v4.8h-3.0z" fill="#000028"/>
<path d="M125.1 731.5h1.5v5.0h-1.5zM134.0 731.5h2.7v5.0h-2.7zM145.2 731.5h3.0v5.0h-3.0zM156.6 731.5h1.6v5.0h-1.6zM170.9 731.5h1.4v5.0h-1.4zM175.7 731.5h1.6v5.0h-1.6zM179.8 731.5h1.2v5.0h-1.2zM183.3 731.5h2.6v5.0h-2.6zM188.2 731.5h3.1v5.0h-3.1zM195.0 731.5h2.4v5.0h-2.4zM204.4 731.5h2.6v5.0h-2.6zM209.0 731.5h2.9v5.0h-2.9zM215.5 731.5h1.5v5.0h-1.5zM223.3 731.5h2.2v5.0h-2.2zM229.0 731.5h1.6v5.0h-1.6zM232.9 731.5h2.9v5.0h-2.9zM239.6 731.5h1.8v5.0h-1.8zM244.6 731.5h2.2v5.0h-2.2zM259.7 731.5h2.0v5.0h-2.0zM268.3 731.5h1.6v5.0h-1.6zM273.7 731.5h2.2v5.0h-2.2zM279.6 731.5h1.7v5.0h-1.7zM289.9 731.5h1.9v5.0h-1.9zM300.0 731.5h1.5v5.0h-1.5zM304.9 731.5h2.4v5.0h-2.4zM310.0 731.5h3.0v5.0h-3.0zM320.3 731.5h1.5v5.0h-1.5zM323.9 731.5h1.9v5.0h-1.9zM327.7 731.5h1.9v5.0h-1.9zM333.5 731.5h2.7v5.0h-2.7zM340.1 731.5h1.4v5.0h-1.4zM354.2 731.5h1.6v5.0h-1.6zM407.4 731.5h2.5v5.0h-2.5zM430.3 731.5h2.3v5.0h-2.3zM436.1 731.5h3.1v5.0h-3.1zM440.9 731.5h2.3v5.0h-2.3zM452.4 731.5h2.2v5.0h-2.2zM462.6 731.5h2.7v5.0h-2.7zM469.3 731.5h1.9v5.0h-1.9zM473.4 731.5h2.0v5.0h-2.0zM482.3 731.5h1.7v5.0h-1.7zM487.4 731.5h3.1v5.0h-3.1zM492.5 731.5h2.8v5.0h-2.8zM502.3 731.5h2.5v5.0h-2.5zM517.8 731.5h2.1v5.0h-2.1zM526.6 731.5h2.9v5.0h-2.9zM532.0 731.5h1.7v5.0h-1.7zM539.0 731.5h1.7v5.0h-1.7zM559.3 731.5h2.8v5.0h-2.8zM565.6 731.5h2.5v5.0h-2.5zM574.8 731.5h1.4v5.0h-1.4zM578.3 731.5h2.8v5.0h-2.8zM600.3 731.5h2.9v5.0h-2.9zM611.3 731.5h3.0v5.0h-3.0zM616.4 731.5h1.7v5.0h-1.7zM620.8 731.5h1.3v5.0h-1.3zM624.0 731.5h2.2v5.0h-2.2zM629.0 731.5h2.9v5.0h-2.9zM635.6 731.5h2.1v5.0h-2.1zM640.9 731.5h2.9v5.0h-2.9zM646.3 731.5h3.1v5.0h-3.1zM652.5 731.5h2.5v5.0h-2.5zM662.9 731.5h3.2v5.0h-3.2zM668.8 731.5h3.0v5.0h-3.0zM675.1 731.5h2.5v5.0h-2.5zM681.2 731.5h1.9v5.0h-1.9zM685.9 731.5h2.7v5.0h-2.7zM691.2 731.5h2.0v5.0h-2.0zM701.1 731.5h2.2v5.0h-2.2zM712.8 731.5h1.9v5.0h-1.9zM727.7 731.5h2.3v5.0h-2.3zM732.2 731.5h1.2v5.0h-1.2zM754.6 731.5h2.6v5.0h-2.6zM764.2 731.5h1.6v5.0h-1.6zM780.4 731.5h1.7v5.0h-1.7zM784.7 731.5h1.8v5.0h-1.8zM789.7 731.5h3.1v5.0h-3.1zM795.6 731.5h1.3v5.0h-1.3zM805.4 731.5h1.2v5.0h-1.2zM815.4 731.5h2.0v5.0h-2.0zM820.5 731.5h1.6v5.0h-1.6zM826.7 731.5h3.1v5.0h-3.1zM833.5 731.5h1.5v5.0h-1.5zM856.2 731.5h3.1v5.0h-3.1zM863.2 731.5h2.6v5.0h-2.6zM875.3 731.5h2.9v5.0h-2.9zM879.9 731.5h1.9v5.0h-1.9zM884.4 731.5h2.6v5.0h-2.6zM895.5 731.5h2.0v5.0h-2.0zM907.0 731.5h1.8v5.0h-1.8zM923.6 731.5h2.4v5.0h-2.4zM928.6 731.5h3.0v5.0h-3.0zM940.7 731.5h1.8v5.0h-1.8zM944.6 731.5h2.0v5.0h-2.0zM950.2 731.5h3.0v5.0h-3.0zM972.7 731.5h1.4v5.0h-1.4zM987.9 731.5h2.1v5.0h-2.1zM1002.3 731.5h1.7v5.0h-1.7zM1007.7 731.5h3.0v5.0h-3.0zM1013.4 731.5h2.4v5.0h-2.4zM1021.7 731.5h2.3v5.0h-2.3zM1026.8 731.5h1.5v5.0h-1.5zM1032.3 731.5h1.9v5.0h-1.9zM1037.3 731.5h2.8v5.0h-2.8zM1043.1 731.5h1.9v5.0h-1.9zM1051.5 731.5h2.2v5.0h-2.2zM1055.8 731.5h2.8v5.0h-2.8zM1069.1 731.5h1.7v5.0h-1.7zM1072.8 731.5h1.6v5.0h-1.6zM1085.7 731.5h2.4v5.0h-2.4zM1089.9 731.5h3.1v5.0h-3.1zM1101.6 731.5h2.0v5.0h-2.0zM1110.6 731.5h1.3v5.0h-1.3zM1134.9 731.5h2.6v5.0h-2.6zM1140.5 731.5h2.7v5.0h-2.7zM1145.5 731.5h1.7v5.0h-1.7zM1149.9 731.5h1.5v5.0h-1.5zM1153.3 731.5h2.6v5.0h-2.6zM1159.2 731.5h1.6v5.0h-1.6zM1169.9 731.5h3.0v5.0h-3.0zM1180.5 731.5h2.5v5.0h-2.5zM1185.3 731.5h2.8v5.0h-2.8zM1191.2 731.5h1.5v5.0h-1.5zM1194.3 731.5h2.6v5.0h-2.6zM1198.8 731.5h2.9v5.0h-2.9zM1204.3 731.5h1.5v5.0h-1.5zM1209.4 731.5h1.9v5.0h-1.9zM1217.6 731.5h3.2v5.0h-3.2zM1224.5 731.5h2.5v5.0h-2.5zM1229.7 731.5h1.8v5.0h-1.8zM1239.4 731.5h3.1v5.0h-3.1zM1244.7 731.5h3.0v5.0h-3.0zM1254.3 731.5h2.8v5.0h-2.8zM1263.0 731.5h1.6v5.0h-1.6zM1268.4 731.5h1.6v5.0h-1.6zM1276.7 731.5h1.6v5.0h-1.6zM1280.0 731.5h2.4v5.0h-2.4zM1289.5 731.5h2.8v5.0h-2.8zM1298.2 731.5h2.6v5.0h-2.6zM1309.9 731.5h2.2v5.0h-2.2zM1324.2 731.5h1.5v5.0h-1.5zM1328.7 731.5h1.2v5.0h-1.2zM1332.5 731.5h2.2v5.0h-2.2zM1343.1 731.5h2.6v5.0h-2.6zM1354.4 731.5h2.2v5.0h-2.2zM1359.4 731.5h2.3v5.0h-2.3zM1365.6 731.5h1.6v5.0h-1.6zM1375.6 731.5h1.2v5.0h-1.2zM1388.4 731.5h1.4v5.0h-1.4zM1392.6 731.5h1.8v5.0h-1.8zM1396.8 731.5h1.5v5.0h-1.5zM1402.0 731.5h1.5v5.0h-1.5zM1412.2 731.5h2.0v5.0h-2.0zM1417.8 731.5h2.3v5.0h-2.3zM1423.9 731.5h2.8v5.0h-2.8zM1428.7 731.5h1.9v5.0h-1.9zM1440.9 731.5h2.9v5.0h-2.9zM1456.3 731.5h2.3v5.0h-2.3zM1461.1 731.5h2.2v5.0h-2.2zM1478.3 731.5h3.0v5.0h-3.0zM1493.7 731.5h1.7v5.0h-1.7zM1497.9 731.5h3.1v5.0h-3.1zM1503.3 731.5h2.5v5.0h-2.5zM1508.8 731.5h3.1v5.0h-3.1zM1514.1 731.5h2.1v5.0h-2.1zM1518.1 731.5h1.4v5.0h-1.4zM1521.8 731.5h2.0v5.0h-2.0zM1525.9 731.5h1.4v5.0h-1.4zM1530.9 731.5h2.4v5.0h-2.4zM1545.6 731.5h1.8v5.0h-1.8zM1549.5 731.5h2.2v5.0h-2.2zM1554.7 731.5h1.2v5.0h-1.2zM1559.6 731.5h1.7v5.0h-1.7zM1568.0 731.5h2.7v5.0h-2.7zM1572.4 731.5h2.9v5.0h-2.9zM1577.0 731.5h2.0v5.0h-2.0zM1582.3 731.5h1.4v5.0h-1.4zM1587.6 731.5h2.7v5.0h-2.7zM1614.8 731.5h3.0v5.0h-3.0zM1636.5 731.5h2.4v5.0h-2.4zM1645.9 731.5h2.0v5.0h-2.0zM1655.8 731.5h2.2v5.0h-2.2zM1660.0 731.5h1.8v5.0h-1.8zM1664.7 731.5h2.4v5.0h-2.4zM1676.3 731.5h3.1v5.0h-3.1zM1682.0 731.5h3.0v5.0h-3.0zM1686.6 731.5h2.3v5.0h-2.3zM1692.8 731.5h2.7v5.0h-2.7zM1699.5 731.5h2.2v5.0h-2.2zM1705.0 731.5h2.0v5.0h-2.0zM1715.0 731.5h2.3v5.0h-2.3zM1719.7 731.5h2.0v5.0h-2.0zM1736.4 731.5h1.9v5.0h-1.9zM1741.8 731.5h1.5v5.0h-1.5zM1747.3 731.5h2.9v5.0h-2.9zM1764.2 731.5h1.5v5.0h-1.5zM1768.5 731.5h2.2v5.0h-2.2zM1786.6 731.5h2.6v5.0h-2.6zM1791.4 731.5h2.9v5.0h-2.9z" fill="#000030"/>
<path d="M121.3 731.5h1.6v5.0h-1.6zM125.0 731.5h1.7v5.0h-1.7zM128.7 731.5h3.2v5.0h-3.2zM133.6 731.5h1.4v5.0h-1.4zM137.5 731.5h1.4v5.0h-1.4zM144.5 731.5h2.8v5.0h-2.8zM148.1 731.5h2.7v5.0h-2.7zM153.2 731.5h1.9v5.0h-1.9zM160.0 731.5h1.9v5.0h-1.9zM166.9 731.5h3.1v5.0h-3.1zM172.2 731.5h1.7v5.0h-1.7zM176.8 731.5h2.9v5.0h-2.9zM182.4 731.5h2.8v5.0h-2.8zM187.4 731.5h3.1v5.0h-3.1zM193.4 731.5h1.7v5.0h-1.7zM197.5 731.5h1.6v5.0h-1.6zM205.3 731.5h1.5v5.0h-1.5zM208.1 731.5h3.1v5.0h-3.1zM213.3 731.5h1.4v5.0h-1.4zM216.4 731.5h2.0v5.0h-2.0zM219.4 731.5h2.9v5.0h-2.9zM223.6 731.5h1.6v5.0h-1.6zM226.5 731.5h1.3v5.0h-1.3zM239.3 731.5h1.5v5.0h-1.5zM246.5 731.5h3.1v5.0h-3.1zM250.9 731.5h2.1v5.0h-2.1zM259.1 731.5h1.9v5.0h-1.9zM265.9 731.5h2.2v5.0h-2.2zM269.5 731.5h2.7v5.0h-2.7zM274.5 731.5h2.3v5.0h-2.3zM278.5 731.5h1.4v5.0h-1.4zM282.6 731.5h1.8v5.0h-1.8zM285.4 731.5h2.3v5.0h-2.3zM289.7 731.5h1.8v5.0h-1.8zM292.9 731.5h1.7v5.0h-1.7zM297.0 731.5h1.8v5.0h-1.8zM307.0 731.5h1.5v5.0h-1.5zM309.3 731.5h2.6v5.0h-2.6zM313.4 731.5h2.0v5.0h-2.0zM321.1 731.5h2.5v5.0h-2.5zM330.0 731.5h1.3v5.0h-1.3zM332.4 731.5h1.6v5.0h-1.6zM335.7 731.5h1.3v5.0h-1.3zM342.8 731.5h2.6v5.0h-2.6zM347.1 731.5h2.6v5.0h-2.6zM358.2 731.5h1.3v5.0h-1.3zM360.6 731.5h2.8v5.0h-2.8zM366.2 731.5h2.7v5.0h-2.7zM375.8 731.5h1.8v5.0h-1.8zM389.7 731.5h2.1v5.0h-2.1zM394.1 731.5h2.1v5.0h-2.1zM409.8 731.5h2.3v5.0h-2.3zM413.1 731.5h1.9v5.0h-1.9zM416.2 731.5h1.8v5.0h-1.8zM420.4 731.5h2.5v5.0h-2.5zM424.3 731.5h2.2v5.0h-2.2zM429.4 731.5h1.9v5.0h-1.9zM434.0 731.5h1.5v5.0h-1.5zM437.0 731.5h2.8v5.0h-2.8zM442.3 731.5h1.5v5.0h-1.5zM450.7 731.5h1.4v5.0h-1.4zM453.8 731.5h1.6v5.0h-1.6zM460.2 731.5h1.4v5.0h-1.4zM463.4 731.5h1.9v5.0h-1.9zM474.3 731.5h2.3v5.0h-2.3zM478.5 731.5h2.1v5.0h-2.1zM490.7 731.5h1.7v5.0h-1.7zM497.4 731.5h1.8v5.0h-1.8zM510.7 731.5h1.9v5.0h-1.9zM515.1 731.5h1.8v5.0h-1.8zM522.3 731.5h1.3v5.0h-1.3zM531.4 731.5h3.1v5.0h-3.1zM536.3 731.5h1.5v5.0h-1.5zM539.9 731.5h1.4v5.0h-1.4zM545.5 731.5h1.3v5.0h-1.3zM548.0 731.5h2.6v5.0h-2.6zM558.0 731.5h1.8v5.0h-1.8zM561.7 731.5h2.0v5.0h-2.0zM570.8 731.5h1.5v5.0h-1.5zM574.1 731.5h2.3v5.0h-2.3zM577.7 731.5h1.4v5.0h-1.4zM592.0 731.5h2.8v5.0h-2.8zM597.1 731.5h2.4v5.0h-2.4zM601.6 731.5h3.1v5.0h-3.1zM606.9 731.5h1.8v5.0h-1.8zM611.5 731.5h1.3v5.0h-1.3zM615.0 731.5h2.1v5.0h-2.1zM619.4 731.5h1.9v5.0h-1.9zM623.0 731.5h2.3v5.0h-2.3zM627.0 731.5h1.4v5.0h-1.4zM631.1 731.5h2.3v5.0h-2.3zM636.1 731.5h1.7v5.0h-1.7zM639.8 731.5h1.7v5.0h-1.7zM643.5 731.5h1.7v5.0h-1.7zM646.2 731.5h2.2v5.0h-2.2zM649.4 731.5h2.0v5.0h-2.0zM653.2 731.5h2.9v5.0h-2.9zM658.5 731.5h2.7v5.0h-2.7zM664.2 731.5h2.6v5.0h-2.6zM669.5 731.5h2.0v5.0h-2.0zM677.8 731.5h2.8v5.0h-2.8zM681.9 731.5h1.9v5.0h-1.9zM685.9 731.5h1.6v5.0h-1.6zM694.1 731.5h2.9v5.0h-2.9zM699.9 731.5h2.9v5.0h-2.9zM709.5 731.5h2.9v5.0h-2.9zM719.0 731.5h1.3v5.0h-1.3zM724.6 731.5h3.1v5.0h-3.1zM729.1 731.5h1.6v5.0h-1.6zM733.3 731.5h2.4v5.0h-2.4zM739.1 731.5h2.3v5.0h-2.3zM743.7 731.5h2.0v5.0h-2.0zM748.4 731.5h2.3v5.0h-2.3zM753.3 731.5h3.1v5.0h-3.1zM757.9 731.5h1.5v5.0h-1.5zM762.2 731.5h2.8v5.0h-2.8zM766.2 731.5h2.8v5.0h-2.8zM770.7 731.5h2.2v5.0h-2.2zM779.6 731.5h1.4v5.0h-1.4zM782.2 731.5h3.0v5.0h-3.0zM786.1 731.5h1.5v5.0h-1.5zM789.5 731.5h2.4v5.0h-2.4zM793.4 731.5h1.2v5.0h-1.2zM796.2 731.5h1.2v5.0h-1.2zM800.4 731.5h1.3v5.0h-1.3zM803.9 731.5h1.7v5.0h-1.7zM807.6 731.5h1.7v5.0h-1.7zM820.3 731.5h2.7v5.0h-2.7zM825.3 731.5h1.9v5.0h-1.9zM839.2 731.5h2.2v5.0h-2.2zM843.0 731.5h2.3v5.0h-2.3zM846.2 731.5h1.9v5.0h-1.9zM851.1 731.5h2.2v5.0h-2.2zM854.6 731.5h1.7v5.0h-1.7zM860.4 731.5h2.1v5.0h-2.1zM863.9 731.5h1.5v5.0h-1.5zM870.7 731.5h3.1v5.0h-3.1zM876.6 731.5h2.4v5.0h-2.4zM884.2 731.5h2.7v5.0h-2.7zM889.6 731.5h1.3v5.0h-1.3zM893.7 731.5h1.8v5.0h-1.8zM896.3 731.5h1.5v5.0h-1.5zM900.2 731.5h1.6v5.0h-1.6zM912.2 731.5h2.4v5.0h-2.4zM917.2 731.5h3.0v5.0h-3.0zM921.3 731.5h1.6v5.0h-1.6zM933.4 731.5h2.0v5.0h-2.0zM936.9 731.5h1.3v5.0h-1.3zM939.2 731.5h2.5v5.0h-2.5zM943.5 731.5h2.4v5.0h-2.4zM951.0 731.5h3.2v5.0h-3.2zM956.3 731.5h2.6v5.0h-2.6zM960.0 731.5h1.5v5.0h-1.5zM967.1 731.5h2.3v5.0h-2.3zM971.4 731.5h2.5v5.0h-2.5zM975.4 731.5h2.7v5.0h-2.7zM989.2 731.5h1.8v5.0h-1.8zM993.8 731.5h1.5v5.0h-1.5zM1001.3 731.5h3.2v5.0h-3.2zM1006.9 731.5h1.4v5.0h-1.4zM1009.4 731.5h1.3v5.0h-1.3zM1015.9 731.5h1.5v5.0h-1.5zM1019.8 731.5h3.0v5.0h-3.0zM1023.7 731.5h2.8v5.0h-2.8zM1029.4 731.5h2.2v5.0h-2.2zM1033.2 731.5h2.8v5.0h-2.8zM1037.5 731.5h3.0v5.0h-3.0zM1042.9 731.5h1.3v5.0h-1.3zM1045.9 731.5h2.9v5.0h-2.9zM1055.8 731.5h2.5v5.0h-2.5zM1059.6 731.5h1.7v5.0h-1.7zM1069.5 731.5h2.3v5.0h-2.3zM1074.6 731.5h2.9v5.0h-2.9zM1080.0 731.5h2.8v5.0h-2.8zM1087.7 731.5h2.6v5.0h-2.6zM1095.7 731.5h3.0v5.0h-3.0zM1101.1 731.5h2.9v5.0h-2.9zM1106.8 731.5h3.2v5.0h-3.2zM1113.0 731.5h3.0v5.0h-3.0zM1118.5 731.5h1.4v5.0h-1.4zM1122.2 731.5h1.4v5.0h-1.4zM1132.0 731.5h1.3v5.0h-1.3zM1135.8 731.5h2.6v5.0h-2.6zM1140.3 731.5h1.7v5.0h-1.7zM1145.7 731.5h3.0v5.0h-3.0zM1150.5 731.5h1.5v5.0h-1.5zM1153.2 731.5h2.6v5.0h-2.6zM1158.2 731.5h2.2v5.0h-2.2zM1170.1 731.5h2.7v5.0h-2.7zM1174.0 731.5h1.7v5.0h-1.7zM1176.6 731.5h2.2v5.0h-2.2zM1180.8 731.5h1.9v5.0h-1.9zM1185.1 731.5h2.5v5.0h-2.5zM1194.9 731.5h2.6v5.0h-2.6zM1202.7 731.5h2.0v5.0h-2.0zM1205.8 731.5h3.2v5.0h-3.2zM1211.1 731.5h3.1v5.0h-3.1zM1216.3 731.5h2.0v5.0h-2.0zM1223.5 731.5h3.0v5.0h-3.0zM1228.8 731.5h1.8v5.0h-1.8zM1247.7 731.5h2.6v5.0h-2.6zM1252.3 731.5h2.4v5.0h-2.4zM1256.2 731.5h2.5v5.0h-2.5zM1260.0 731.5h2.4v5.0h-2.4zM1269.3 731.5h2.2v5.0h-2.2zM1272.6 731.5h3.1v5.0h-3.1zM1289.8 731.5h2.9v5.0h-2.9zM1298.3 731.5h1.5v5.0h-1.5zM1304.7 731.5h2.1v5.0h-2.1zM1308.4 731.5h3.2v5.0h-3.2zM1318.0 731.5h1.5v5.0h-1.5zM1321.2 731.5h2.2v5.0h-2.2zM1325.0 731.5h1.9v5.0h-1.9zM1327.7 731.5h1.6v5.0h-1.6zM1333.2 731.5h1.8v5.0h-1.8zM1337.7 731.5h1.4v5.0h-1.4zM1341.8 731.5h1.6v5.0h-1.6zM1345.9 731.5h2.4v5.0h-2.4zM1349.3 731.5h2.1v5.0h-2.1zM1353.7 731.5h1.8v5.0h-1.8zM1357.7 731.5h2.8v5.0h-2.8zM1370.5 731.5h2.5v5.0h-2.5zM1374.0 731.5h2.7v5.0h-2.7zM1383.3 731.5h1.3v5.0h-1.3zM1394.2 731.5h2.2v5.0h-2.2z" fill="#0000ec"/>
<path d="M130.7 754.6h1.6v4.8h-1.6zM136.7 754.6h1.4v4.8h-1.4zM142.3 754.6h2.3v4.8h-2.3zM148.5 754.6h2.6v4.8h-2.6zM152.8 754.6h2.6v4.8h-2.6zM166.7 754.6h1.5v4.8h-1.5zM175.1 754.6h1.7v4.8h-1.7zM179.3 754.6h2.9v4.8h-2.9zM185.5 754.6h2.0v4.8h-2.0zM197.5 754.6h1.7v4.8h-1.7zM200.9 754.6h2.3v4.8h-2.3zM206.3 754.6h2.2v4.8h-2.2zM211.3 754.6h2.8v4.8h-2.8zM218.8 754.6h2.3v4.8h-2.3zM223.7 754.6h2.3v4.8h-2.3zM229.4 754.6h1.8v4.8h-1.8zM241.7 754.6h2.4v4.8h-2.4zM256.3 754.6h2.9v4.8h-2.9zM267.9 754.6h2.8v4.8h-2.8zM274.5 754.6h2.5v4.8h-2.5zM279.3 754.6h2.9v4.8h-2.9zM286.9 754.6h1.6v4.8h-1.6zM296.1 754.6h2.5v4.8h-2.5zM303.3 754.6h2.6v4.8h-2.6zM307.5 754.6h2.6v4.8h-2.6zM314.6 754.6h1.8v4.8h-1.8zM319.9 754.6h1.8v4.8h-1.8zM323.8 754.6h3.0v4.8h-3.0zM337.7 754.6h2.0v4.8h-2.0zM342.5 754.6h2.5v4.8h-2.5zM348.4 754.6h1.4v4.8h-1.4zM357.8 754.6h2.9v4.8h-2.9zM371.9 754.6h1.8v4.8h-1.8zM387.6 754.6h2.3v4.8h-2.3zM411.2 754.6h1.9v4.8h-1.9zM415.4 754.6h2.7v4.8h-2.7zM422.4 754.6h1.8v4.8h-1.8zM427.6 754.6h1.4v4.8h-1.4zM433.3 754.6h2.4v4.8h-2.4zM437.3 754.6h2.2v4.8h-2.2zM443.3 754.6h1.5v4.8h-1.5zM461.7 754.6h1.5v4.8h-1.5zM467.8 754.6h1.4v4.8h-1.4zM472.6 754.6h1.4v4.8h-1.4zM476.1 754.6h2.3v4.8h-2.3zM481.2 754.6h1.6v4.8h-1.6zM485.0 754.6h1.5v4.8h-1.5zM494.8 754.6h3.1v4.8h-3.1zM506.8 754.6h2.7v4.8h-2.7zM511.9 754.6h1.3v4.8h-1.3zM520.0 754.6h2.4v4.8h-2.4zM530.5 754.6h1.7v4.8h-1.7zM542.3 754.6h2.8v4.8h-2.8zM553.1 754.6h3.1v4.8h-3.1zM559.1 754.6h1.4v4.8h-1.4zM564.6 754.6h2.6v4.8h-2.6zM569.8 754.6h1.5v4.8h-1.5zM580.4 754.6h2.8v4.8h-2.8zM593.4 754.6h2.5v4.8h-2.5zM604.2 754.6h2.6v4.8h-2.6zM629.9 754.6h2.8v4.8h-2.8zM648.2 754.6h3.1v4.8h-3.1zM656.2 754.6h2.8v4.8h-2.8zM663.4 754.6h1.7v4.8h-1.7zM668.2 754.6h1.7v4.8h-1.7zM698.5 754.6h1.9v4.8h-1.9zM704.8 754.6h2.8v4.8h-2.8zM710.8 754.6h1.2v4.8h-1.2zM721.5 754.6h1.9v4.8h-1.9zM731.5 754.6h1.4v4.8h-1.4zM746.3 754.6h2.8v4.8h-2.8zM751.6 754.6h3.1v4.8h-3.1zM764.6 754.6h2.0v4.8h-2.0zM775.8 754.6h2.9v4.8h-2.9zM782.0 754.6h1.2v4.8h-1.2zM792.5 754.6h1.9v4.8h-1.9zM797.9 754.6h2.9v4.8h-2.9zM814.9 754.6h3.1v4.8h-3.1zM821.8 754.6h2.5v4.8h-2.5zM854.4 754.6h1.9v4.8h-1.9zM861.1 754.6h3.0v4.8h-3.0zM867.6 754.6h2.4v4.8h-2.4zM878.0 754.6h2.7v4.8h-2.7zM902.6 754.6h1.8v4.8h-1.8zM913.5 754.6h1.5v4.8h-1.5zM923.1 754.6h1.8v4.8h-1.8zM934.3 754.6h1.6v4.8h-1.6zM940.7 754.6h1.6v4.8h-1.6zM945.3 754.6h1.4v4.8h-1.4zM965.8 754.6h1.8v4.8h-1.8zM971.8 754.6h2.1v4.8h-2.1zM977.8 754.6h2.7v4.8h-2.7zM983.3 754.6h3.0v4.8h-3.0zM988.8 754.6h2.5v4.8h-2.5zM1004.6 754.6h1.7v4.8h-1.7zM1015.3 754.6h2.8v4.8h-2.8zM1054.7 754.6h1.5v4.8h-1.5zM1057.9 754.6h2.0v4.8h-2.0zM1064.4 754.6h2.5v4.8h-2.5zM1069.9 754.6h2.3v4.8h-2.3zM1107.2 754.6h2.4v4.8h-2.4zM1116.2 754.6h1.6v4.8h-1.6zM1130.2 754.6h2.9v4.8h-2.9zM1134.6 754.6h2.5v4.8h-2.5zM1139.5 754.6h1.3v4.8h-1.3zM1144.3 754.6h2.8v4.8h-2.8zM1151.5 754.6h1.4v4.8h-1.4zM1156.6 754.6h1.9v4.8h-1.9zM1175.0 754.6h2.2v4.8h-2.2zM1184.9 754.6h2.0v4.8h-2.0zM1202.6 754.6h3.2v4.8h-3.2zM1208.9 754.6h1.5v4.8h-1.5zM1214.3 754.6h2.6v4.8h-2.6zM1219.6 754.6h1.6v4.8h-1.6zM1228.6 754.6h2.1v4.8h-2.1zM1234.6 754.6h1.6v4.8h-1.6zM1253.5 754.6h2.6v4.8h-2.6zM1263.6 754.6h2.5v4.8h-2.5zM1275.3 754.6h1.8v4.8h-1.8zM1285.5 754.6h2.1v4.8h-2.1zM1305.7 754.6h1.4v4.8h-1.4zM1310.4 754.6h1.6v4.8h-1.6zM1321.4 754.6h3.2v4.8h-3.2zM1335.0 754.6h1.5v4.8h-1.5zM1338.7 754.6h2.4v4.8h-2.4zM1353.3 754.6h1.3v4.8h-1.3zM1358.3 754.6h3.0v4.8h-3.0zM1365.0 754.6h1.6v4.8h-1.6zM1371.3 754.6h2.0v4.8h-2.0zM1376.8 754.6h1.5v4.8h-1.5zM1387.7 754.6h2.1v4.8h-2.1zM1393.8 754.6h1.3v4.8h-1.3zM1413.7 754.6h1.3v4.8h-1.3zM1419.9 754.6h1.7v4.8h-1.7zM1432.8 754.6h1.3v4.8h-1.3zM1439.0 754.6h2.8v4.8h-2.8z" fill="#000034"/>
<path d="M956.0 661.6h3.0v3.4h-3.0zM975.1 661.6h2.8v3.4h-2.8zM993.7 661.6h3.0v3.4h-3.0zM1013.2 661.6h2.4v3.4h-2.4zM1023.4 661.6h1.4v3.4h-1.4zM1031.1 661.6h1.8v3.4h-1.8zM1035.9 661.6h2.7v3.4h-2.7zM1046.6 661.6h2.8v3.4h-2.8zM1053.1 661.6h2.5v3.4h-2.5zM1068.9 661.6h1.9v3.4h-1.9zM1084.7 661.6h1.9v3.4h-1.9zM1104.5 661.6h2.7v3.4h-2.7zM1118.8 661.6h2.2v3.4h-2.2zM1162.7 661.6h3.0v3.4h-3.0zM1180.9 661.6h1.8v3.4h-1.8zM1187.7 661.6h1.4v3.4h-1.4zM1218.4 661.6h1.7v3.4h-1.7zM1225.6 661.6h1.2v3.4h-1.2zM1235.2 661.6h3.0v3.4h-3.0zM1256.4 661.6h2.3v3.4h-2.3zM1288.4 661.6h3.1v3.4h-3.1zM1306.0 661.6h1.6v3.4h-1.6zM1316.1 661.6h1.2v3.4h-1.2zM1324.6 661.6h3.2v3.4h-3.2zM1343.5 661.6h2.7v3.4h-2.7zM1373.8 661.6h2.6v3.4h-2.6zM1379.8 661.6h1.3v3.4h-1.3zM1386.3 661.6h1.5v3.4h-1.5zM1401.5 661.6h2.7v3.4h-2.7zM1407.8 661.6h1.8v3.4h-1.8zM1422.4 661.6h3.1v3.4h-3.1zM1449.0 661.6h1.8v3.4h-1.8zM1454.9 661.6h3.0v3.4h-3.0zM1471.4 661.6h1.5v3.4h-1.5zM1490.1 661.6h1.6v3.4h-1.6zM1494.9 661.6h2.9v3.4h-2.9zM1512.3 661.6h2.8v3.4h-2.8zM1520.3 661.6h2.2v3.4h-2.2zM1527.0 661.6h2.8v3.4h-2.8zM1535.1 661.6h2.7v3.4h-2.7zM1542.0 661.6h1.6v3.4h-1.6zM1548.8 661.6h2.5v3.4h-2.5zM1568.8 661.6h1.7v3.4h-1.7zM1576.1 661.6h1.4v3.4h-1.4zM1584.8 661.6h1.4v3.4h-1.4zM1592.1 661.6h1.5v3.4h-1.5zM1599.3 661.6h1.4v3.4h-1.4zM1614.4 661.6h1.3v3.4h-1.3zM1634.3 661.6h2.9v3.4h-2.9zM1645.8 661.6h2.2v3.4h-2.2zM1652.1 661.6h2.9v3.4h-2.9zM1666.0 661.6h2.7v3.4h-2.7zM1674.4 661.6h1.8v3.4h-1.8zM1683.2 661.6h1.9v3.4h-1.9zM1694.1 661.6h2.2v3.4h-2.2zM1699.3 661.6h2.5v3.4h-2.5zM1713.3 661.6h1.7v3.4h-1.7zM1721.6 661.6h2.5v3.4h-2.5zM1749.2 661.6h1.7v3.4h-1.7zM1759.3 661.6h1.4v3.4h-1.4zM1763.8 661.6h2.1v3.4h-2.1zM1770.1 661.6h2.7v3.4h-2.7zM1786.5 661.6h3.1v3.4h-3.1z" fill="#00003c"/>
<path d="M130.3 281h2.9v4.0h-2.9zM145.1 281h2.1v4.0h-2.1zM158.9 281h1.8v4.0h-1.8zM167.5 281h2.5v4.0h-2.5zM182.6 281h2.4v4.0h-2.4zM200.0 281h1.7v4.0h-1.7zM213.4 281h1.5v4.0h-1.5zM229.9 281h1.7v4.0h-1.7zM240.3 281h2.1v4.0h-2.1zM282.8 281h1.2v4.0h-1.2zM313.5 281h2.5v4.0h-2.5zM345.9 281h1.6v4.0h-1.6zM358.6 281h2.3v4.0h-2.3zM370.5 281h1.7v4.0h-1.7zM414.9 281h2.5v4.0h-2.5zM429.0 281h2.8v4.0h-2.8zM439.3 281h3.1v4.0h-3.1zM458.6 281h2.7v4.0h-2.7zM470.6 281h2.7v4.0h-2.7zM479.1 281h1.6v4.0h-1.6zM485.0 281h1.5v4.0h-1.5zM493.9 281h1.4v4.0h-1.4zM506.8 281h2.4v4.0h-2.4zM518.8 281h2.1v4.0h-2.1zM567.4 281h2.7v4.0h-2.7zM589.8 281h3.0v4.0h-3.0zM598.4 281h1.2v4.0h-1.2zM609.4 281h1.7v4.0h-1.7zM620.8 281h1.7v4.0h-1.7zM632.1 281h3.2v4.0h-3.2zM648.5 281h1.9v4.0h-1.9zM656.9 281h2.0v4.0h-2.0zM665.0 281h1.3v4.0h-1.3zM694.1 281h1.9v4.0h-1.9zM701.5 281h3.1v4.0h-3.1zM717.6 281h2.6v4.0h-2.6zM730.6 281h2.8v4.0h-2.8zM754.1 281h2.8v4.0h-2.8zM761.6 281h2.5v4.0h-2.5zM769.2 281h1.6v4.0h-1.6zM775.7 281h2.5v4.0h-2.5zM784.2 281h2.0v4.0h-2.0zM830.4 281h1.5v4.0h-1.5zM856.6 281h2.8v4.0h-2.8zM865.9 281h2.6v4.0h-2.6zM877.4 281h1.4v4.0h-1.4zM899.4 281h2.1v4.0h-2.1zM906.5 281h2.2v4.0h-2.2zM915.6 281h2.6v4.0h-2.6zM928.5 281h1.4v4.0h-1.4zM937.0 281h2.2v4.0h-2.2zM948.5 281h1.6v4.0h-1.6zM981.1 281h2.4v4.0h-2.4zM991.2 281h2.5v4.0h-2.5zM1026.2 281h2.1v4.0h-2.1zM1048.1 281h1.4v4.0h-1.4zM1071.4 281h1.9v4.0h-1.9zM1079.2 281h3.1v4.0h-3.1zM1113.3 281h1.8v4.0h-1.8zM1124.8 281h2.7v4.0h-2.7zM1133.0 281h3.1v4.0h-3.1zM1146.7 281h1.9v4.0h-1.9zM1161.9 281h2.9v4.0h-2.9zM1170.2 281h2.7v4.0h-2.7zM1191.3 281h2.3v4.0h-2.3zM1230.2 281h1.7v4.0h-1.7zM1238.9 281h1.9v4.0h-1.9zM1292.5 281h2.8v4.0h-2.8zM1311.6 281h2.3v4.0h-2.3zM1337.1 281h3.0v4.0h-3.0zM1373.2 281h2.1v4.0h-2.1zM1394.0 281h1.9v4.0h-1.9zM1400.7 281h1.9v4.0h-1.9zM1413.0 281h1.7v4.0h-1.7zM1419.2 281h2.7v4.0h-2.7zM1478.6 281h1.4v4.0h-1.4zM1490.6 281h2.2v4.0h-2.2zM1508.8 281h1.9v4.0h-1.9zM1522.4 281h2.6v4.0h-2.6zM1536.3 281h1.3v4.0h-1.3zM1545.0 281h2.6v4.0h-2.6zM1565.0 281h1.9v4.0h-1.9zM1576.8 281h2.8v4.0h-2.8zM1590.7 281h3.2v4.0h-3.2zM1609.2 281h1.8v4.0h-1.8zM1620.8 281h1.6v4.0h-1.6zM1630.4 281h2.5v4.0h-2.5zM1644.6 281h3.2v4.0h-3.2zM1677.8 281h3.0v4.0h-3.0zM1698.4 281h3.1v4.0h-3.1zM1713.0 281h2.3v4.0h-2.3zM1724.3 281h2.8v4.0h-2.8zM1736.0 281h1.7v4.0h-1.7zM1745.0 281h2.2v4.0h-2.2zM1752.0 281h1.2v4.0h-1.2zM1762.9 281h2.7v4.0h-2.7zM1771.7 281h2.2v4.0h-2.2zM1782.7 281h3.0v4.0h-3.0z" fill="#000048"/>
<path d="M600.0 269h2.6v4.0h-2.6zM613.3 269h3.1v4.0h-3.1zM627.9 269h2.1v4.0h-2.1zM664.4 269h1.6v4.0h-1.6zM673.3 269h2.4v4.0h-2.4zM681.0 269h1.6v4.0h-1.6zM688.2 269h1.8v4.0h-1.8zM695.5 269h2.2v4.0h-2.2zM719.4 269h1.6v4.0h-1.6zM726.2 269h1.5v4.0h-1.5zM737.3 269h3.1v4.0h-3.1zM747.3 269h2.1v4.0h-2.1zM758.9 269h2.0v4.0h-2.0zM771.8 269h2.3v4.0h-2.3zM784.9 269h2.7v4.0h-2.7zM796.6 269h3.0v4.0h-3.0zM807.1 269h1.8v4.0h-1.8zM847.4 269h3.1v4.0h-3.1zM857.7 269h1.6v4.0h-1.6zM870.4 269h2.8v4.0h-2.8zM879.8 269h2.2v4.0h-2.2zM888.9 269h3.0v4.0h-3.0zM911.0 269h1.9v4.0h-1.9zM921.8 269h2.8v4.0h-2.8zM931.5 269h2.0v4.0h-2.0zM944.8 269h2.3v4.0h-2.3zM953.7 269h2.8v4.0h-2.8zM966.1 269h1.2v4.0h-1.2zM971.8 269h2.8v4.0h-2.8zM980.4 269h1.3v4.0h-1.3zM1012.8 269h3.1v4.0h-3.1zM1049.3 269h1.3v4.0h-1.3zM1062.3 269h1.5v4.0h-1.5zM1082.2 269h3.2v4.0h-3.2zM1092.4 269h1.7v4.0h-1.7zM1114.5 269h1.6v4.0h-1.6zM1122.9 269h2.7v4.0h-2.7zM1133.8 269h2.6v4.0h-2.6zM1143.9 269h2.8v4.0h-2.8zM1176.8 269h3.0v4.0h-3.0zM1185.0 269h1.6v4.0h-1.6zM1207.6 269h2.2v4.0h-2.2zM1230.8 269h2.7v4.0h-2.7zM1257.1 269h1.8v4.0h-1.8zM1298.7 269h2.4v4.0h-2.4zM1312.0 269h2.2v4.0h-2.2zM1347.1 269h3.0v4.0h-3.0zM1357.5 269h3.1v4.0h-3.1zM1370.8 269h1.4v4.0h-1.4zM1377.1 269h2.9v4.0h-2.9zM1400.8 269h1.4v4.0h-1.4zM1433.3 269h3.2v4.0h-3.2zM1455.5 269h2.9v4.0h-2.9zM1470.0 269h2.1v4.0h-2.1zM1488.1 269h3.2v4.0h-3.2zM1515.6 269h2.2v4.0h-2.2zM1528.6 269h3.0v4.0h-3.0zM1565.1 269h1.6v4.0h-1.6zM1582.6 269h2.8v4.0h-2.8zM1663.4 269h3.0v4.0h-3.0zM1675.9 269h2.3v4.0h-2.3zM1683.5 269h1.5v4.0h-1.5zM1692.9 269h1.7v4.0h-1.7zM1703.1 269h2.7v4.0h-2.7zM1711.1 269h3.0v4.0h-3.0zM1725.8 269h3.2v4.0h-3.2zM1737.6 269h3.1v4.0h-3.1zM1749.1 269h1.8v4.0h-1.8zM1756.6 269h1.4v4.0h-1.4z" fill="#000050"/>
<g mask="url(#wvm)" opacity="0.52"><g filter="url(#b2)">
<use href="#wv" transform="translate(0,751.0) scale(1,0.72)" stroke="#000044" stroke-width="9" opacity="0.8"/>
<use href="#wv" transform="translate(0,763.3) scale(1,0.76)" stroke="#0000b0" stroke-width="4.5" opacity="0.95"/>
<use href="#wv2" transform="translate(0,751.0) scale(1,0.72)" stroke="#000044" stroke-width="9" opacity="0.8"/>
<use href="#wv2" transform="translate(0,763.3) scale(1,0.76)" stroke="#0000b0" stroke-width="4.5" opacity="0.95"/>
<use href="#wv3" transform="translate(0,751.0) scale(1,0.72)" stroke="#000044" stroke-width="9" opacity="0.8"/>
<use href="#wv3" transform="translate(0,763.3) scale(1,0.76)" stroke="#0000b0" stroke-width="4.5" opacity="0.95"/>
<use href="#wv" transform="translate(0,775.5) scale(1,0.80)" stroke="#000044" stroke-width="9" opacity="0.8"/>
<use href="#wv" transform="translate(0,787.8) scale(1,0.84)" stroke="#0000b0" stroke-width="4.5" opacity="0.95"/>
<use href="#wv2" transform="translate(0,775.5) scale(1,0.80)" stroke="#000044" stroke-width="9" opacity="0.8"/>
<use href="#wv2" transform="translate(0,787.8) scale(1,0.84)" stroke="#0000b0" stroke-width="4.5" opacity="0.95"/>
<use href="#wv3" transform="translate(0,775.5) scale(1,0.80)" stroke="#000044" stroke-width="9" opacity="0.8"/>
<use href="#wv3" transform="translate(0,787.8) scale(1,0.84)" stroke="#0000b0" stroke-width="4.5" opacity="0.95"/>
<use href="#wv" transform="translate(0,800.0) scale(1,0.88)" stroke="#000044" stroke-width="9" opacity="0.8"/>
<use href="#wv" transform="translate(0,812.3) scale(1,0.92)" stroke="#0000b0" stroke-width="4.5" opacity="0.95"/>
<use href="#wv2" transform="translate(0,800.0) scale(1,0.88)" stroke="#000044" stroke-width="9" opacity="0.8"/>
<use href="#wv2" transform="translate(0,812.3) scale(1,0.92)" stroke="#0000b0" stroke-width="4.5" opacity="0.95"/>
<use href="#wv3" transform="translate(0,800.0) scale(1,0.88)" stroke="#000044" stroke-width="9" opacity="0.8"/>
<use href="#wv3" transform="translate(0,812.3) scale(1,0.92)" stroke="#0000b0" stroke-width="4.5" opacity="0.95"/>
<use href="#wv" transform="translate(0,824.5) scale(1,0.96)" stroke="#000044" stroke-width="9" opacity="0.8"/>
<use href="#wv" transform="translate(0,836.8) scale(1,1.00)" stroke="#0000b0" stroke-width="4.5" opacity="0.95"/>
<use href="#wv2" transform="translate(0,824.5) scale(1,0.96)" stroke="#000044" stroke-width="9" opacity="0.8"/>
<use href="#wv2" transform="translate(0,836.8) scale(1,1.00)" stroke="#0000b0" stroke-width="4.5" opacity="0.95"/>
<use href="#wv3" transform="translate(0,824.5) scale(1,0.96)" stroke="#000044" stroke-width="9" opacity="0.8"/>
<use href="#wv3" transform="translate(0,836.8) scale(1,1.00)" stroke="#0000b0" stroke-width="4.5" opacity="0.95"/>
<use href="#wv" transform="translate(0,849.0) scale(1,1.06)" stroke="#000044" stroke-width="9" opacity="0.8"/>
<use href="#wv" transform="translate(0,861.3) scale(1,1.13)" stroke="#0000b0" stroke-width="4.5" opacity="0.95"/>
<use href="#wv2" transform="translate(0,849.0) scale(1,1.06)" stroke="#000044" stroke-width="9" opacity="0.8"/>
<use href="#wv2" transform="translate(0,861.3) scale(1,1.13)" stroke="#0000b0" stroke-width="4.5" opacity="0.95"/>
<use href="#wv3" transform="translate(0,849.0) scale(1,1.06)" stroke="#000044" stroke-width="9" opacity="0.8"/>
<use href="#wv3" transform="translate(0,861.3) scale(1,1.13)" stroke="#0000b0" stroke-width="4.5" opacity="0.95"/>
<use href="#wv" transform="translate(0,873.5) scale(1,1.20)" stroke="#000044" stroke-width="9" opacity="0.8"/>
<use href="#wv" transform="translate(0,885.8) scale(1,1.26)" stroke="#0000b0" stroke-width="4.5" opacity="0.95"/>
<use href="#wv2" transform="translate(0,873.5) scale(1,1.20)" stroke="#000044" stroke-width="9" opacity="0.8"/>
<use href="#wv2" transform="translate(0,885.8) scale(1,1.26)" stroke="#0000b0" stroke-width="4.5" opacity="0.95"/>
<use href="#wv3" transform="translate(0,873.5) scale(1,1.20)" stroke="#000044" stroke-width="9" opacity="0.8"/>
<use href="#wv3" transform="translate(0,885.8) scale(1,1.26)" stroke="#0000b0" stroke-width="4.5" opacity="0.95"/>
<use href="#wv" transform="translate(0,898.0) scale(1,1.32)" stroke="#000044" stroke-width="9" opacity="0.8"/>
<use href="#wv" transform="translate(0,910.3) scale(1,1.39)" stroke="#0000b0" stroke-width="4.5" opacity="0.95"/>
<use href="#wv2" transform="translate(0,898.0) scale(1,1.32)" stroke="#000044" stroke-width="9" opacity="0.8"/>
<use href="#wv2" transform="translate(0,910.3) scale(1,1.39)" stroke="#0000b0" stroke-width="4.5" opacity="0.95"/>
<use href="#wv3" transform="translate(0,898.0) scale(1,1.32)" stroke="#000044" stroke-width="9" opacity="0.8"/>
<use href="#wv3" transform="translate(0,910.3) scale(1,1.39)" stroke="#0000b0" stroke-width="4.5" opacity="0.95"/>
<use href="#wv" transform="translate(0,922.5) scale(1,1.46)" stroke="#000044" stroke-width="9" opacity="0.8"/>
<use href="#wv" transform="translate(0,934.8) scale(1,1.52)" stroke="#0000b0" stroke-width="4.5" opacity="0.95"/>
<use href="#wv2" transform="translate(0,922.5) scale(1,1.46)" stroke="#000044" stroke-width="9" opacity="0.8"/>
<use href="#wv2" transform="translate(0,934.8) scale(1,1.52)" stroke="#0000b0" stroke-width="4.5" opacity="0.95"/>
<use href="#wv3" transform="translate(0,922.5) scale(1,1.46)" stroke="#000044" stroke-width="9" opacity="0.8"/>
<use href="#wv3" transform="translate(0,934.8) scale(1,1.52)" stroke="#0000b0" stroke-width="4.5" opacity="0.95"/>
<use href="#wv" transform="translate(0,947.0) scale(1,1.58)" stroke="#000044" stroke-width="9" opacity="0.8"/>
<use href="#wv" transform="translate(0,959.3) scale(1,1.65)" stroke="#0000b0" stroke-width="4.5" opacity="0.95"/>
<use href="#wv2" transform="translate(0,947.0) scale(1,1.58)" stroke="#000044" stroke-width="9" opacity="0.8"/>
<use href="#wv2" transform="translate(0,959.3) scale(1,1.65)" stroke="#0000b0" stroke-width="4.5" opacity="0.95"/>
<use href="#wv3" transform="translate(0,947.0) scale(1,1.58)" stroke="#000044" stroke-width="9" opacity="0.8"/>
<use href="#wv3" transform="translate(0,959.3) scale(1,1.65)" stroke="#0000b0" stroke-width="4.5" opacity="0.95"/>
</g></g>
<use href="#wv3" transform="translate(0,836.8)" stroke="#0000b4" stroke-width="4" opacity="0.45" filter="url(#b2)"/>
<use href="#wv3" transform="translate(0,829)" stroke="#000034" stroke-width="6" opacity="0.35" filter="url(#b2)"/>
<g mask="url(#wvm2)" opacity="0.6"><g filter="url(#b1)">
<use href="#wv" transform="translate(0,775.5)" stroke="#000028" stroke-width="11" opacity="0.9"/>
<use href="#wv2" transform="translate(0,775.5)" stroke="#000028" stroke-width="11" opacity="0.9"/>
<use href="#wv3" transform="translate(0,775.5)" stroke="#000028" stroke-width="11" opacity="0.25"/>
<use href="#wv" transform="translate(0,800.0)" stroke="#000028" stroke-width="11" opacity="0.9"/>
<use href="#wv2" transform="translate(0,800.0)" stroke="#000028" stroke-width="11" opacity="0.9"/>
<use href="#wv3" transform="translate(0,800.0)" stroke="#000028" stroke-width="11" opacity="0.25"/>
<use href="#wv" transform="translate(0,824.5)" stroke="#000028" stroke-width="11" opacity="0.9"/>
<use href="#wv2" transform="translate(0,824.5)" stroke="#000028" stroke-width="11" opacity="0.9"/>
<use href="#wv3" transform="translate(0,824.5)" stroke="#000028" stroke-width="11" opacity="0.25"/>
<use href="#wv" transform="translate(0,849.0)" stroke="#000028" stroke-width="11" opacity="0.9"/>
<use href="#wv2" transform="translate(0,849.0)" stroke="#000028" stroke-width="11" opacity="0.9"/>
<use href="#wv3" transform="translate(0,849.0)" stroke="#000028" stroke-width="11" opacity="0.25"/>
</g></g>
<g mask="url(#wvm3)" opacity="0.7"><g filter="url(#b1)">
<use href="#wv" transform="translate(0,787.8)" stroke="#0000c4" stroke-width="12" opacity="0.95"/>
<use href="#wv2" transform="translate(0,787.8)" stroke="#0000c4" stroke-width="12" opacity="0.95"/>
<use href="#wv3" transform="translate(0,787.8)" stroke="#0000c4" stroke-width="12" opacity="0.2"/>
<use href="#wv" transform="translate(0,812.3)" stroke="#0000c4" stroke-width="12" opacity="0.95"/>
<use href="#wv2" transform="translate(0,812.3)" stroke="#0000c4" stroke-width="12" opacity="0.95"/>
<use href="#wv3" transform="translate(0,812.3)" stroke="#0000c4" stroke-width="12" opacity="0.2"/>
<use href="#wv" transform="translate(0,836.8)" stroke="#0000c4" stroke-width="12" opacity="0.95"/>
<use href="#wv2" transform="translate(0,836.8)" stroke="#0000c4" stroke-width="12" opacity="0.95"/>
<use href="#wv3" transform="translate(0,836.8)" stroke="#0000c4" stroke-width="12" opacity="0.2"/>
<use href="#wv" transform="translate(0,861.3)" stroke="#0000c4" stroke-width="12" opacity="0.95"/>
<use href="#wv2" transform="translate(0,861.3)" stroke="#0000c4" stroke-width="12" opacity="0.95"/>
<use href="#wv3" transform="translate(0,861.3)" stroke="#0000c4" stroke-width="12" opacity="0.2"/>
</g></g>
<line x1="228" y1="796" x2="230.5" y2="775" stroke="#1000ff" stroke-width="1.3"/>
<line x1="252" y1="812" x2="254.5" y2="792" stroke="#2300ff" stroke-width="1.3"/>
<line x1="258" y1="800" x2="260" y2="778" stroke="#970af5" stroke-width="1.3"/>
<line x1="265" y1="776" x2="266.5" y2="768" stroke="#0a00ff" stroke-width="1.3"/>
<line x1="292" y1="810" x2="294" y2="795" stroke="#0100ff" stroke-width="1.3"/>
<line x1="300" y1="790" x2="301.5" y2="772" stroke="#1a00ff" stroke-width="1.3"/>
<line x1="899" y1="808" x2="901" y2="790" stroke="#1000ff" stroke-width="1.3"/>
<line x1="903" y1="790" x2="904.5" y2="772" stroke="#6800ff" stroke-width="1.3"/>
<line x1="925" y1="810" x2="927" y2="795" stroke="#0a00ff" stroke-width="1.3"/>
<line x1="930" y1="795" x2="932" y2="775" stroke="#970af5" stroke-width="1.3"/>
<line x1="936" y1="778" x2="937" y2="770" stroke="#0a00ff" stroke-width="1.3"/>
<line x1="1531" y1="780" x2="1532" y2="772" stroke="#0a00ff" stroke-width="1.3"/>
<line x1="1572" y1="800" x2="1573.5" y2="785" stroke="#6800ff" stroke-width="1.3"/>
<line x1="1576" y1="782" x2="1577.5" y2="770" stroke="#0a00ff" stroke-width="1.3"/>
<line x1="1598" y1="800" x2="1599.5" y2="785" stroke="#8100ff" stroke-width="1.3"/>
<line x1="1604" y1="780" x2="1605" y2="768" stroke="#1000ff" stroke-width="1.3"/>
<line x1="1594" y1="815" x2="1595.5" y2="800" stroke="#0a00ff" stroke-width="1.3"/>
<line x1="1638" y1="800" x2="1639.5" y2="787" stroke="#2d00ff" stroke-width="1.3"/>
<line x1="1632" y1="815" x2="1633" y2="805" stroke="#0100ff" stroke-width="1.3"/>
<line x1="259" y1="972" x2="261" y2="958" stroke="#1000ff" stroke-width="1.3"/>
<line x1="927" y1="972" x2="928" y2="962" stroke="#0700ff" stroke-width="1.3"/>
<line x1="1598" y1="972" x2="1600" y2="958" stroke="#0700ff" stroke-width="1.3"/>
<line x1="969" y1="795" x2="969.6" y2="785" stroke="#1000ff" stroke-width="1.3"/>
<rect x="121.35" y="51.5" width="1674.1" height="4.62" fill="#000" opacity="0.033"/>
<rect x="121.35" y="56.1" width="1674.1" height="4.62" fill="#000" opacity="0.032"/>
<rect x="121.35" y="60.7" width="1674.1" height="4.62" fill="#2222ff" opacity="0.019"/>
<rect x="121.35" y="65.4" width="1674.1" height="4.62" fill="#000" opacity="0.064"/>
<rect x="121.35" y="74.6" width="1674.1" height="4.62" fill="#000" opacity="0.063"/>
<rect x="121.35" y="79.2" width="1674.1" height="4.62" fill="#2222ff" opacity="0.031"/>
<rect x="121.35" y="88.5" width="1674.1" height="4.62" fill="#2222ff" opacity="0.038"/>
<rect x="121.35" y="93.1" width="1674.1" height="4.62" fill="#000" opacity="0.014"/>
<rect x="121.35" y="106.9" width="1674.1" height="4.62" fill="#000" opacity="0.021"/>
<rect x="121.35" y="116.2" width="1674.1" height="4.62" fill="#000" opacity="0.035"/>
<rect x="121.35" y="125.4" width="1674.1" height="4.62" fill="#2222ff" opacity="0.020"/>
<rect x="121.35" y="139.3" width="1674.1" height="4.62" fill="#2222ff" opacity="0.061"/>
<rect x="121.35" y="148.5" width="1674.1" height="4.62" fill="#000" opacity="0.016"/>
<rect x="121.35" y="157.8" width="1674.1" height="4.62" fill="#000" opacity="0.015"/>
<rect x="121.35" y="171.6" width="1674.1" height="4.62" fill="#2222ff" opacity="0.057"/>
<rect x="121.35" y="185.5" width="1674.1" height="4.62" fill="#2222ff" opacity="0.019"/>
<rect x="121.35" y="190.1" width="1674.1" height="4.62" fill="#2222ff" opacity="0.056"/>
<rect x="121.35" y="199.3" width="1674.1" height="4.62" fill="#000" opacity="0.017"/>
<rect x="121.35" y="204.0" width="1674.1" height="4.62" fill="#2222ff" opacity="0.069"/>
<rect x="121.35" y="208.6" width="1674.1" height="4.62" fill="#000" opacity="0.041"/>
<rect x="121.35" y="217.8" width="1674.1" height="4.62" fill="#2222ff" opacity="0.019"/>
<rect x="121.35" y="222.4" width="1674.1" height="4.62" fill="#2222ff" opacity="0.064"/>
<rect x="121.35" y="227.1" width="1674.1" height="4.62" fill="#000" opacity="0.027"/>
<rect x="121.35" y="231.7" width="1674.1" height="4.62" fill="#000" opacity="0.068"/>
<rect x="121.35" y="236.3" width="1674.1" height="4.62" fill="#2222ff" opacity="0.019"/>
<rect x="121.35" y="240.9" width="1674.1" height="4.62" fill="#000" opacity="0.015"/>
<rect x="121.35" y="250.2" width="1674.1" height="4.62" fill="#2222ff" opacity="0.013"/>
<rect x="121.35" y="268.7" width="1674.1" height="4.62" fill="#2222ff" opacity="0.036"/>
<rect x="121.35" y="273.3" width="1674.1" height="4.62" fill="#2222ff" opacity="0.042"/>
<rect x="121.35" y="282.5" width="1674.1" height="4.62" fill="#000" opacity="0.013"/>
<rect x="121.35" y="287.1" width="1674.1" height="4.62" fill="#2222ff" opacity="0.021"/>
<rect x="121.35" y="291.8" width="1674.1" height="4.62" fill="#2222ff" opacity="0.013"/>
<rect x="121.35" y="296.4" width="1674.1" height="4.62" fill="#000" opacity="0.029"/>
<rect x="121.35" y="301.0" width="1674.1" height="4.62" fill="#000" opacity="0.013"/>
<rect x="121.35" y="305.6" width="1674.1" height="4.62" fill="#2222ff" opacity="0.029"/>
<rect x="121.35" y="333.3" width="1674.1" height="4.62" fill="#000" opacity="0.054"/>
<rect x="121.35" y="338.0" width="1674.1" height="4.62" fill="#2222ff" opacity="0.049"/>
<rect x="121.35" y="347.2" width="1674.1" height="4.62" fill="#000" opacity="0.025"/>
<rect x="121.35" y="351.8" width="1674.1" height="4.62" fill="#2222ff" opacity="0.027"/>
<rect x="121.35" y="365.7" width="1674.1" height="4.62" fill="#2222ff" opacity="0.029"/>
<rect x="121.35" y="370.3" width="1674.1" height="4.62" fill="#2222ff" opacity="0.063"/>
<rect x="121.35" y="374.9" width="1674.1" height="4.62" fill="#2222ff" opacity="0.016"/>
<rect x="121.35" y="379.5" width="1674.1" height="4.62" fill="#2222ff" opacity="0.044"/>
<rect x="121.35" y="384.2" width="1674.1" height="4.62" fill="#2222ff" opacity="0.060"/>
<rect x="121.35" y="388.8" width="1674.1" height="4.62" fill="#000" opacity="0.029"/>
<rect x="121.35" y="393.4" width="1674.1" height="4.62" fill="#000" opacity="0.015"/>
<rect x="121.35" y="448.8" width="1674.1" height="4.62" fill="#2222ff" opacity="0.022"/>
<rect x="121.35" y="453.5" width="1674.1" height="4.62" fill="#000" opacity="0.048"/>
<rect x="121.35" y="462.7" width="1674.1" height="4.62" fill="#2222ff" opacity="0.036"/>
<rect x="121.35" y="467.3" width="1674.1" height="4.62" fill="#2222ff" opacity="0.029"/>
<rect x="121.35" y="471.9" width="1674.1" height="4.62" fill="#2222ff" opacity="0.016"/>
<rect x="121.35" y="476.6" width="1674.1" height="4.62" fill="#000" opacity="0.053"/>
<rect x="121.35" y="481.2" width="1674.1" height="4.62" fill="#2222ff" opacity="0.066"/>
<rect x="121.35" y="485.8" width="1674.1" height="4.62" fill="#2222ff" opacity="0.015"/>
<rect x="121.35" y="490.4" width="1674.1" height="4.62" fill="#2222ff" opacity="0.021"/>
<rect x="121.35" y="495.0" width="1674.1" height="4.62" fill="#2222ff" opacity="0.014"/>
<rect x="121.35" y="499.7" width="1674.1" height="4.62" fill="#000" opacity="0.048"/>
<rect x="121.35" y="504.3" width="1674.1" height="4.62" fill="#000" opacity="0.040"/>
<rect x="121.35" y="508.9" width="1674.1" height="4.62" fill="#000" opacity="0.034"/>
<rect x="121.35" y="513.5" width="1674.1" height="4.62" fill="#2222ff" opacity="0.054"/>
<rect x="121.35" y="518.1" width="1674.1" height="4.62" fill="#000" opacity="0.023"/>
<rect x="121.35" y="578.2" width="1674.1" height="4.62" fill="#2222ff" opacity="0.016"/>
<rect x="121.35" y="582.8" width="1674.1" height="4.62" fill="#2222ff" opacity="0.014"/>
<rect x="121.35" y="592.1" width="1674.1" height="4.62" fill="#000" opacity="0.035"/>
<rect x="121.35" y="596.7" width="1674.1" height="4.62" fill="#000" opacity="0.075"/>
<rect x="121.35" y="610.6" width="1674.1" height="4.62" fill="#2222ff" opacity="0.034"/>
<rect x="121.35" y="619.8" width="1674.1" height="4.62" fill="#000" opacity="0.017"/>
<rect x="121.35" y="629.0" width="1674.1" height="4.62" fill="#000" opacity="0.044"/>
<rect x="121.35" y="633.7" width="1674.1" height="4.62" fill="#000" opacity="0.029"/>
<rect x="121.35" y="638.3" width="1674.1" height="4.62" fill="#000" opacity="0.028"/>
<rect x="121.35" y="647.5" width="1674.1" height="4.62" fill="#2222ff" opacity="0.059"/>
<rect x="121.35" y="652.1" width="1674.1" height="4.62" fill="#2222ff" opacity="0.021"/>
<rect x="121.35" y="656.8" width="1674.1" height="4.62" fill="#2222ff" opacity="0.032"/>
<rect x="121.35" y="679.9" width="1674.1" height="4.62" fill="#000" opacity="0.068"/>
<rect x="121.35" y="684.5" width="1674.1" height="4.62" fill="#000" opacity="0.034"/>
<rect x="121.35" y="689.1" width="1674.1" height="4.62" fill="#000" opacity="0.036"/>
<rect x="121.35" y="693.7" width="1674.1" height="4.62" fill="#2222ff" opacity="0.023"/>
<rect x="121.35" y="698.3" width="1674.1" height="4.62" fill="#2222ff" opacity="0.019"/>
<rect x="121.35" y="703.0" width="1674.1" height="4.62" fill="#2222ff" opacity="0.032"/>
<rect x="121.35" y="707.6" width="1674.1" height="4.62" fill="#2222ff" opacity="0.044"/>
<rect x="121.35" y="716.8" width="1674.1" height="4.62" fill="#2222ff" opacity="0.030"/>
<rect x="121.35" y="721.4" width="1674.1" height="4.62" fill="#2222ff" opacity="0.055"/>
<rect x="121.35" y="730.7" width="1674.1" height="4.62" fill="#2222ff" opacity="0.030"/>
<rect x="121.35" y="739.9" width="1674.1" height="4.62" fill="#000" opacity="0.045"/>
<rect x="121.35" y="749.2" width="1674.1" height="4.62" fill="#000" opacity="0.023"/>
<rect x="121.35" y="758.4" width="1674.1" height="4.62" fill="#000" opacity="0.013"/>
<rect x="121.35" y="767.6" width="1674.1" height="4.62" fill="#000" opacity="0.060"/>
<rect x="121.35" y="772.3" width="1674.1" height="4.62" fill="#2222ff" opacity="0.058"/>
<rect x="121.35" y="776.9" width="1674.1" height="4.62" fill="#2222ff" opacity="0.038"/>
<rect x="121.35" y="786.1" width="1674.1" height="4.62" fill="#000" opacity="0.025"/>
<rect x="121.35" y="795.4" width="1674.1" height="4.62" fill="#2222ff" opacity="0.019"/>
<rect x="121.35" y="809.2" width="1674.1" height="4.62" fill="#000" opacity="0.055"/>
<rect x="121.35" y="813.8" width="1674.1" height="4.62" fill="#000" opacity="0.032"/>
<rect x="121.35" y="818.5" width="1674.1" height="4.62" fill="#2222ff" opacity="0.038"/>
<rect x="121.35" y="827.7" width="1674.1" height="4.62" fill="#000" opacity="0.043"/>
<rect x="121.35" y="832.3" width="1674.1" height="4.62" fill="#000" opacity="0.024"/>
<rect x="121.35" y="836.9" width="1674.1" height="4.62" fill="#000" opacity="0.041"/>
<rect x="121.35" y="841.6" width="1674.1" height="4.62" fill="#000" opacity="0.029"/>
<rect x="121.35" y="846.2" width="1674.1" height="4.62" fill="#2222ff" opacity="0.033"/>
<rect x="121.35" y="855.4" width="1674.1" height="4.62" fill="#2222ff" opacity="0.032"/>
<rect x="121.35" y="864.7" width="1674.1" height="4.62" fill="#000" opacity="0.043"/>
<rect x="121.35" y="869.3" width="1674.1" height="4.62" fill="#000" opacity="0.018"/>
<rect x="121.35" y="873.9" width="1674.1" height="4.62" fill="#2222ff" opacity="0.065"/>
<rect x="121.35" y="878.5" width="1674.1" height="4.62" fill="#000" opacity="0.022"/>
<rect x="121.35" y="883.1" width="1674.1" height="4.62" fill="#000" opacity="0.030"/>
<rect x="121.35" y="887.8" width="1674.1" height="4.62" fill="#2222ff" opacity="0.035"/>
<rect x="121.35" y="901.6" width="1674.1" height="4.62" fill="#2222ff" opacity="0.042"/>
<rect x="121.35" y="906.2" width="1674.1" height="4.62" fill="#000" opacity="0.050"/>
<rect x="121.35" y="915.5" width="1674.1" height="4.62" fill="#000" opacity="0.030"/>
<rect x="121.35" y="920.1" width="1674.1" height="4.62" fill="#000" opacity="0.040"/>
<rect x="121.35" y="924.7" width="1674.1" height="4.62" fill="#000" opacity="0.023"/>
<rect x="121.35" y="929.3" width="1674.1" height="4.62" fill="#2222ff" opacity="0.033"/>
<rect x="121.35" y="938.6" width="1674.1" height="4.62" fill="#000" opacity="0.052"/>
<rect x="121.35" y="943.2" width="1674.1" height="4.62" fill="#000" opacity="0.032"/>
<rect x="121.35" y="947.8" width="1674.1" height="4.62" fill="#2222ff" opacity="0.044"/>
<rect x="121.35" y="952.4" width="1674.1" height="4.62" fill="#2222ff" opacity="0.029"/>
<rect x="121.35" y="957.1" width="1674.1" height="4.62" fill="#000" opacity="0.031"/>
<rect x="121.35" y="961.7" width="1674.1" height="4.62" fill="#2222ff" opacity="0.069"/>
<rect x="121.35" y="970.9" width="1674.1" height="4.62" fill="#000" opacity="0.034"/>
</g>
<rect x="121.35" y="51.5" width="1674.1" height="924.0" filter="url(#nzD)" opacity="0.3"/>
<rect x="121.35" y="51.5" width="1674.1" height="924.0" filter="url(#nzB)" opacity="0.2"/>
<g filter="url(#gb)">
<g filter="url(#b1)">
<rect x="164.3" y="556.0" width="12.4" height="3.0" fill="#0000bc" opacity="0.8"/>
<rect x="164.6" y="559.0" width="11.8" height="3.3" fill="#4c00ff"/>
<rect x="164.6" y="562.3" width="11.8" height="2.9" fill="#cc2cd3"/>
<rect x="164.6" y="565.2" width="11.8" height="2.4" fill="#ff827d"/>
<rect x="164.6" y="567.6" width="11.8" height="3.8" fill="#ffc837"/>
<rect x="193.2" y="556.0" width="4.8" height="3.0" fill="#0000b0" opacity="0.8"/>
<rect x="193.5" y="559.0" width="4.2" height="3.3" fill="#3900ff"/>
<rect x="193.5" y="562.3" width="4.2" height="2.9" fill="#aa16e9"/>
<rect x="193.5" y="565.2" width="4.2" height="2.4" fill="#ff629d"/>
<rect x="193.5" y="567.6" width="4.2" height="3.8" fill="#ffa25d"/>
<rect x="221.9" y="556.0" width="4.8" height="3.0" fill="#0000b0" opacity="0.8"/>
<rect x="222.2" y="559.0" width="4.2" height="3.3" fill="#3900ff"/>
<rect x="222.2" y="562.3" width="4.2" height="2.9" fill="#aa16e9"/>
<rect x="222.2" y="565.2" width="4.2" height="2.4" fill="#ff629d"/>
<rect x="222.2" y="567.6" width="4.2" height="3.8" fill="#ffa25d"/>
<rect x="236.0" y="556.0" width="16.9" height="3.0" fill="#0000bc" opacity="0.8"/>
<rect x="236.3" y="559.0" width="16.3" height="3.3" fill="#4c00ff"/>
<rect x="236.3" y="562.3" width="16.3" height="2.9" fill="#cc2cd3"/>
<rect x="236.3" y="565.2" width="16.3" height="2.4" fill="#ff827d"/>
<rect x="236.3" y="567.6" width="16.3" height="3.8" fill="#ffc837"/>
<rect x="267.4" y="556.0" width="4.3" height="3.0" fill="#0000b0" opacity="0.8"/>
<rect x="267.7" y="559.0" width="3.7" height="3.3" fill="#3900ff"/>
<rect x="267.7" y="562.3" width="3.7" height="2.9" fill="#aa16e9"/>
<rect x="267.7" y="565.2" width="3.7" height="2.4" fill="#ff629d"/>
<rect x="267.7" y="567.6" width="3.7" height="3.8" fill="#ffa25d"/>
<rect x="285.2" y="556.0" width="6.7" height="3.0" fill="#0000b4" opacity="0.8"/>
<rect x="285.5" y="559.0" width="6.1" height="3.3" fill="#3f00ff"/>
<rect x="285.5" y="562.3" width="6.1" height="2.9" fill="#b61ee1"/>
<rect x="285.5" y="565.2" width="6.1" height="2.4" fill="#ff6e91"/>
<rect x="285.5" y="567.6" width="6.1" height="3.8" fill="#ffb04f"/>
<rect x="376.0" y="556.0" width="6.2" height="3.0" fill="#0000c4" opacity="0.8"/>
<rect x="376.3" y="559.0" width="5.6" height="3.3" fill="#6800ff"/>
<rect x="376.3" y="562.3" width="5.6" height="2.9" fill="#ff629d"/>
<rect x="376.3" y="565.2" width="5.6" height="2.4" fill="#ffce31"/>
<rect x="376.3" y="567.6" width="5.6" height="3.8" fill="#ffffff"/>
<rect x="392.7" y="556.0" width="3.0" height="3.0" fill="#0000bc" opacity="0.8"/>
<rect x="393.0" y="559.0" width="2.4" height="3.3" fill="#4f00ff"/>
<rect x="393.0" y="562.3" width="2.4" height="2.9" fill="#d230cf"/>
<rect x="393.0" y="565.2" width="2.4" height="2.4" fill="#ff8679"/>
<rect x="393.0" y="567.6" width="2.4" height="3.8" fill="#ffce31"/>
<rect x="665.7" y="556.0" width="5.3" height="3.0" fill="#0000ac" opacity="0.8"/>
<rect x="666.0" y="559.0" width="4.7" height="3.3" fill="#3000ff"/>
<rect x="666.0" y="562.3" width="4.7" height="2.9" fill="#9d0ef1"/>
<rect x="666.0" y="565.2" width="4.7" height="2.4" fill="#ff56a9"/>
<rect x="666.0" y="567.6" width="4.7" height="3.8" fill="#ff926d"/>
<rect x="688.7" y="556.0" width="5.1" height="3.0" fill="#0000b8" opacity="0.8"/>
<rect x="689.0" y="559.0" width="4.5" height="3.3" fill="#4900ff"/>
<rect x="689.0" y="562.3" width="4.5" height="2.9" fill="#c628d7"/>
<rect x="689.0" y="565.2" width="4.5" height="2.4" fill="#ff7a85"/>
<rect x="689.0" y="567.6" width="4.5" height="3.8" fill="#ffc03f"/>
<rect x="807.7" y="556.0" width="7.6" height="3.0" fill="#0000c4" opacity="0.8"/>
<rect x="808.0" y="559.0" width="7.0" height="3.3" fill="#6800ff"/>
<rect x="808.0" y="562.3" width="7.0" height="2.9" fill="#ff629d"/>
<rect x="808.0" y="565.2" width="7.0" height="2.4" fill="#ffce31"/>
<rect x="808.0" y="567.6" width="7.0" height="3.8" fill="#ffffff"/>
<rect x="836.7" y="556.0" width="11.6" height="3.0" fill="#0000c4" opacity="0.8"/>
<rect x="837.0" y="559.0" width="11.0" height="3.3" fill="#6800ff"/>
<rect x="837.0" y="562.3" width="11.0" height="2.9" fill="#ff629d"/>
<rect x="837.0" y="565.2" width="11.0" height="2.4" fill="#ffce31"/>
<rect x="837.0" y="567.6" width="11.0" height="3.8" fill="#ffffff"/>
<rect x="868.7" y="556.0" width="2.8" height="3.0" fill="#0000b4" opacity="0.8"/>
<rect x="869.0" y="559.0" width="2.2" height="3.3" fill="#3f00ff"/>
<rect x="869.0" y="562.3" width="2.2" height="2.9" fill="#b61ee1"/>
<rect x="869.0" y="565.2" width="2.2" height="2.4" fill="#ff6e91"/>
<rect x="869.0" y="567.6" width="2.2" height="3.8" fill="#ffb04f"/>
<rect x="936.7" y="556.0" width="11.6" height="3.0" fill="#0000bc" opacity="0.8"/>
<rect x="937.0" y="559.0" width="11.0" height="3.3" fill="#4f00ff"/>
<rect x="937.0" y="562.3" width="11.0" height="2.9" fill="#d230cf"/>
<rect x="937.0" y="565.2" width="11.0" height="2.4" fill="#ff8679"/>
<rect x="937.0" y="567.6" width="11.0" height="3.8" fill="#ffce31"/>
<rect x="949.2" y="556.0" width="10.6" height="3.0" fill="#0000c4" opacity="0.8"/>
<rect x="949.5" y="559.0" width="10.0" height="3.3" fill="#6800ff"/>
<rect x="949.5" y="562.3" width="10.0" height="2.9" fill="#ff5aa5"/>
<rect x="949.5" y="565.2" width="10.0" height="2.4" fill="#ffc23d"/>
<rect x="949.5" y="567.6" width="10.0" height="3.8" fill="#ffffa7"/>
<rect x="974.9" y="556.0" width="7.0" height="3.0" fill="#0000c4" opacity="0.8"/>
<rect x="975.2" y="559.0" width="6.4" height="3.3" fill="#6800ff"/>
<rect x="975.2" y="562.3" width="6.4" height="2.9" fill="#f848b7"/>
<rect x="975.2" y="565.2" width="6.4" height="2.4" fill="#ffaa55"/>
<rect x="975.2" y="567.6" width="6.4" height="3.8" fill="#fffc03"/>
<rect x="1245.7" y="556.0" width="4.6" height="3.0" fill="#0000c0" opacity="0.8"/>
<rect x="1246.0" y="559.0" width="4.0" height="3.3" fill="#5800ff"/>
<rect x="1246.0" y="562.3" width="4.0" height="2.9" fill="#df38c7"/>
<rect x="1246.0" y="565.2" width="4.0" height="2.4" fill="#ff926d"/>
<rect x="1246.0" y="567.6" width="4.0" height="3.8" fill="#ffde21"/>
<rect x="1297.2" y="556.0" width="4.5" height="3.0" fill="#0000c0" opacity="0.8"/>
<rect x="1297.5" y="559.0" width="3.9" height="3.3" fill="#5800ff"/>
<rect x="1297.5" y="562.3" width="3.9" height="2.9" fill="#df38c7"/>
<rect x="1297.5" y="565.2" width="3.9" height="2.4" fill="#ff926d"/>
<rect x="1297.5" y="567.6" width="3.9" height="3.8" fill="#ffde21"/>
<rect x="1510.7" y="556.0" width="9.6" height="3.0" fill="#0000bc" opacity="0.8"/>
<rect x="1511.0" y="559.0" width="9.0" height="3.3" fill="#4f00ff"/>
<rect x="1511.0" y="562.3" width="9.0" height="2.9" fill="#d230cf"/>
<rect x="1511.0" y="565.2" width="9.0" height="2.4" fill="#ff8679"/>
<rect x="1511.0" y="567.6" width="9.0" height="3.8" fill="#ffce31"/>
<rect x="1535.7" y="556.0" width="12.6" height="3.0" fill="#0000c4" opacity="0.8"/>
<rect x="1536.0" y="559.0" width="12.0" height="3.3" fill="#6800ff"/>
<rect x="1536.0" y="562.3" width="12.0" height="2.9" fill="#ff5aa5"/>
<rect x="1536.0" y="565.2" width="12.0" height="2.4" fill="#ffc23d"/>
<rect x="1536.0" y="567.6" width="12.0" height="3.8" fill="#ffffa7"/>
<rect x="1563.5" y="556.0" width="4.5" height="3.0" fill="#0000c0" opacity="0.8"/>
<rect x="1563.8" y="559.0" width="3.9" height="3.3" fill="#5800ff"/>
<rect x="1563.8" y="562.3" width="3.9" height="2.9" fill="#df38c7"/>
<rect x="1563.8" y="565.2" width="3.9" height="2.4" fill="#ff926d"/>
<rect x="1563.8" y="567.6" width="3.9" height="3.8" fill="#ffde21"/>
<rect x="1575.9" y="556.0" width="6.8" height="3.0" fill="#0000c4" opacity="0.8"/>
<rect x="1576.2" y="559.0" width="6.2" height="3.3" fill="#6800ff"/>
<rect x="1576.2" y="562.3" width="6.2" height="2.9" fill="#ff629d"/>
<rect x="1576.2" y="565.2" width="6.2" height="2.4" fill="#ffce31"/>
<rect x="1576.2" y="567.6" width="6.2" height="3.8" fill="#ffffff"/>
<rect x="128.0" y="537.0" width="4.2" height="6.0" fill="#ffffff"/>
<rect x="149.0" y="537.0" width="6.3" height="6.0" fill="#ffffff"/>
<rect x="1271.0" y="537.0" width="6.0" height="9.0" fill="#ffb04f"/>
<rect x="1296.6" y="537.0" width="19.7" height="9.0" fill="#ffc03f"/>
<rect x="1347.0" y="537.0" width="3.0" height="9.0" fill="#ffb04f"/>
<rect x="1110.5" y="535.8" width="4.5" height="10.8" fill="#ffffff"/>
<rect x="1110.5" y="534.6" width="4.5" height="1.6" fill="#ffb04f"/>
<rect x="1110.5" y="546.2" width="4.5" height="1.6" fill="#ffb04f"/>
<rect x="1120.0" y="535.8" width="12.0" height="10.8" fill="#ffffff"/>
<rect x="1120.0" y="534.6" width="12.0" height="1.6" fill="#ffb04f"/>
<rect x="1120.0" y="546.2" width="12.0" height="1.6" fill="#ffb04f"/>
<rect x="1137.0" y="535.8" width="14.0" height="10.8" fill="#ffffff"/>
<rect x="1137.0" y="534.6" width="14.0" height="1.6" fill="#ffb04f"/>
<rect x="1137.0" y="546.2" width="14.0" height="1.6" fill="#ffb04f"/>
<rect x="949.5" y="542.5" width="10.0" height="4.5" fill="#ff748b"/>
<rect x="975.2" y="542.5" width="6.4" height="4.5" fill="#ff926d"/>
<rect x="808.0" y="542.5" width="7.0" height="4.5" fill="#8100ff"/>
<rect x="837.0" y="542.5" width="11.0" height="4.5" fill="#8100ff"/>
<rect x="1536.0" y="542.5" width="12.0" height="4.5" fill="#8100ff"/>
<rect x="1576.2" y="542.5" width="6.2" height="4.5" fill="#df38c7"/>
<rect x="375.4" y="542.5" width="5.6" height="4.5" fill="#8100ff"/>
<rect x="279.3" y="522.0" width="3.9" height="9.5" fill="#970af5"/>
<rect x="300.4" y="522.0" width="7.6" height="9.5" fill="#8100ff"/>
<rect x="402.0" y="522.0" width="3.0" height="9.0" fill="#3900ff"/>
<rect x="132.0" y="524.0" width="3.0" height="7.0" fill="#8100ff"/>
<rect x="147.7" y="524.0" width="2.8" height="7.0" fill="#c92ad5"/>
<rect x="175.0" y="590.6" width="4.5" height="4.8" fill="#c92ad5"/>
<rect x="223.6" y="590.6" width="9.9" height="4.8" fill="#0000c4"/>
<rect x="244.7" y="590.6" width="12.7" height="4.8" fill="#0000c0"/>
<rect x="378.0" y="594.8" width="16.0" height="4.6" fill="#0000d8"/>
<rect x="362.0" y="570.5" width="3.6" height="5.0" fill="#6800ff"/>
<rect x="556.3" y="590.6" width="2.7" height="4.8" fill="#8100ff"/>
<rect x="652.5" y="570.5" width="3.5" height="5.0" fill="#3900ff"/>
<rect x="762.0" y="565.8" width="8.5" height="5.7" fill="#0a00ff"/>
<rect x="774.0" y="571.0" width="7.0" height="5.0" fill="#8100ff"/>
<rect x="784.0" y="565.8" width="3.5" height="5.7" fill="#0400ff"/>
<rect x="1158.0" y="594.8" width="12.0" height="4.6" fill="#0000d8"/>
<rect x="1263.0" y="570.5" width="5.5" height="5.0" fill="#6800ff"/>
<rect x="1278.0" y="570.5" width="14.0" height="5.0" fill="#7800ff"/>
<rect x="1306.0" y="570.5" width="5.0" height="5.0" fill="#5200ff"/>
<rect x="1305.0" y="590.6" width="12.7" height="4.8" fill="#f848b7"/>
<rect x="1330.0" y="590.6" width="8.0" height="4.8" fill="#f848b7"/>
<rect x="955.3" y="599.5" width="6.3" height="6.0" fill="#0000fc"/>
<rect x="939.0" y="599.5" width="5.0" height="6.0" fill="#0000ec"/>
<rect x="1502.5" y="522.0" width="11.3" height="9.5" fill="#8100ff"/>
<rect x="1527.8" y="522.0" width="7.0" height="9.5" fill="#3900ff"/>
<rect x="1430.8" y="546.5" width="4.2" height="4.5" fill="#8100ff"/>
<rect x="1441.0" y="546.5" width="5.0" height="4.5" fill="#ff926d"/>
<rect x="1448.5" y="565.8" width="8.5" height="5.7" fill="#6e00ff"/>
<rect x="1481.4" y="570.5" width="5.6" height="5.0" fill="#8100ff"/>
<rect x="1466.0" y="575.5" width="8.5" height="4.5" fill="#0000ec"/>
<rect x="1392.0" y="555.5" width="8.0" height="4.5" fill="#0000d4"/>
<rect x="1410.0" y="555.5" width="10.0" height="4.5" fill="#0000c4"/>
<rect x="1785.0" y="590.6" width="3.0" height="4.8" fill="#0000e0"/>
<rect x="981.2" y="546.7" width="9.3" height="5.6" fill="#9d0ef1"/>
<rect x="1000.7" y="546.7" width="5.0" height="5.6" fill="#3000ff"/>
<rect x="1097.0" y="518.0" width="3.0" height="13.0" fill="#0000c4"/>
<rect x="1246.0" y="560.0" width="4.0" height="5.0" fill="#8100ff"/>
<rect x="173.6" y="532.3" width="1.6" height="5.0" fill="#ff4eb1" opacity="0.95"/>
<rect x="203.7" y="532.3" width="1.6" height="5.0" fill="#ff4eb1" opacity="0.95"/>
<rect x="245.2" y="532.3" width="1.6" height="5.0" fill="#ff4eb1" opacity="0.95"/>
<rect x="258.2" y="532.3" width="1.6" height="5.0" fill="#ff4eb1" opacity="0.95"/>
<rect x="297.2" y="532.3" width="1.6" height="5.0" fill="#ff4eb1" opacity="0.95"/>
<rect x="314.7" y="532.3" width="1.6" height="5.0" fill="#ff4eb1" opacity="0.95"/>
<rect x="327.7" y="532.3" width="1.6" height="5.0" fill="#ff4eb1" opacity="0.95"/>
<rect x="339.2" y="532.3" width="1.6" height="5.0" fill="#ff4eb1" opacity="0.95"/>
<rect x="344.2" y="532.3" width="1.6" height="5.0" fill="#ff4eb1" opacity="0.95"/>
<rect x="364.2" y="532.3" width="1.6" height="5.0" fill="#ff4eb1" opacity="0.95"/>
<rect x="388.7" y="532.3" width="1.6" height="5.0" fill="#ff4eb1" opacity="0.95"/>
<rect x="722.8" y="532.3" width="1.6" height="5.0" fill="#ff4eb1" opacity="0.95"/>
<rect x="782.7" y="532.3" width="1.6" height="5.0" fill="#ff4eb1" opacity="0.95"/>
<rect x="817.2" y="532.3" width="1.6" height="5.0" fill="#ff4eb1" opacity="0.95"/>
<rect x="830.2" y="532.3" width="1.6" height="5.0" fill="#ff4eb1" opacity="0.95"/>
<rect x="842.8" y="532.3" width="1.6" height="5.0" fill="#ff4eb1" opacity="0.95"/>
<rect x="878.0" y="532.3" width="1.6" height="5.0" fill="#ff4eb1" opacity="0.95"/>
<rect x="891.2" y="532.3" width="1.6" height="5.0" fill="#ff4eb1" opacity="0.95"/>
<rect x="907.2" y="532.3" width="1.6" height="5.0" fill="#ff4eb1" opacity="0.95"/>
<rect x="912.2" y="532.3" width="1.6" height="5.0" fill="#ff4eb1" opacity="0.95"/>
<rect x="927.2" y="532.3" width="1.6" height="5.0" fill="#ff4eb1" opacity="0.95"/>
<rect x="939.2" y="532.3" width="1.6" height="5.0" fill="#ff4eb1" opacity="0.95"/>
<rect x="952.8" y="532.3" width="1.6" height="5.0" fill="#ff4eb1" opacity="0.95"/>
<rect x="965.2" y="532.3" width="1.6" height="5.0" fill="#ff4eb1" opacity="0.95"/>
<rect x="968.2" y="532.3" width="1.6" height="5.0" fill="#ff4eb1" opacity="0.95"/>
<rect x="979.0" y="532.3" width="1.6" height="5.0" fill="#ff4eb1" opacity="0.95"/>
<rect x="1013.9" y="532.3" width="1.6" height="5.0" fill="#ff4eb1" opacity="0.95"/>
<rect x="1023.2" y="532.3" width="1.6" height="5.0" fill="#ff4eb1" opacity="0.95"/>
<rect x="1034.2" y="532.3" width="1.6" height="5.0" fill="#ff4eb1" opacity="0.95"/>
<rect x="1050.2" y="532.3" width="1.6" height="5.0" fill="#ff4eb1" opacity="0.95"/>
<rect x="1059.7" y="532.3" width="1.6" height="5.0" fill="#ff4eb1" opacity="0.95"/>
<rect x="1070.2" y="532.3" width="1.6" height="5.0" fill="#ff4eb1" opacity="0.95"/>
<rect x="1082.2" y="532.3" width="1.6" height="5.0" fill="#ff4eb1" opacity="0.95"/>
<rect x="1089.2" y="532.3" width="1.6" height="5.0" fill="#ff4eb1" opacity="0.95"/>
<rect x="1096.2" y="532.3" width="1.6" height="5.0" fill="#ff4eb1" opacity="0.95"/>
<rect x="1104.7" y="532.3" width="1.6" height="5.0" fill="#ff4eb1" opacity="0.95"/>
<rect x="1266.2" y="532.3" width="1.6" height="5.0" fill="#ff4eb1" opacity="0.95"/>
<rect x="1277.2" y="532.3" width="1.6" height="5.0" fill="#ff4eb1" opacity="0.95"/>
<rect x="1288.8" y="532.3" width="1.6" height="5.0" fill="#ff4eb1" opacity="0.95"/>
<rect x="1328.2" y="532.3" width="1.6" height="5.0" fill="#ff4eb1" opacity="0.95"/>
<rect x="1357.7" y="532.3" width="1.6" height="5.0" fill="#ff4eb1" opacity="0.95"/>
<rect x="1380.2" y="532.3" width="1.6" height="5.0" fill="#ff4eb1" opacity="0.95"/>
<rect x="1393.2" y="532.3" width="1.6" height="5.0" fill="#ff4eb1" opacity="0.95"/>
<rect x="1545.2" y="532.3" width="1.6" height="5.0" fill="#ff4eb1" opacity="0.95"/>
<rect x="1662.2" y="532.3" width="1.6" height="5.0" fill="#ff4eb1" opacity="0.95"/>
<rect x="1723.8" y="532.3" width="1.6" height="5.0" fill="#ff4eb1" opacity="0.95"/>
<rect x="1751.2" y="532.3" width="1.6" height="5.0" fill="#ff4eb1" opacity="0.95"/>
<rect x="473.9" y="531.8" width="1.6" height="5.2" fill="#8100ff"/>
<rect x="481.2" y="531.8" width="1.6" height="5.2" fill="#8100ff"/>
<rect x="542.8" y="531.8" width="1.6" height="5.2" fill="#8100ff"/>
<rect x="554.2" y="531.8" width="1.6" height="5.2" fill="#8100ff"/>
<rect x="581.6" y="531.8" width="1.6" height="5.2" fill="#8100ff"/>
<rect x="601.9" y="531.8" width="1.6" height="5.2" fill="#8100ff"/>
<rect x="1171.2" y="531.8" width="1.6" height="5.2" fill="#8100ff"/>
<rect x="1190.2" y="531.8" width="1.6" height="5.2" fill="#8100ff"/>
<rect x="1411.2" y="531.8" width="1.6" height="5.2" fill="#8100ff"/>
<rect x="1421.2" y="531.8" width="1.6" height="5.2" fill="#8100ff"/>
<rect x="1428.2" y="531.8" width="1.6" height="5.2" fill="#8100ff"/>
</g>
<path d="M1130.0,51 L1130.2,95 L1130.4,130 L1130.9,165 L1131.6,171 L1130.9,175 L1129.9,179 L1129.6,192 L1131.2,199 L1131.5,230 L1131.1,240 L1131.5,252 L1131.5,330 L1130.9,338 L1130.3,350 L1129.2,375 L1130.2,385 L1130.8,388 L1130.3,392 L1130.2,420 L1130.5,428 L1130.5,505 L1129.4,515 L1129.2,572 L1130.4,588 L1131.2,602 L1131.5,615 L1131.5,758 L1131.1,766 L1131.1,848 L1131.6,856 L1131.7,975 L1137.7,975 L1137.8,856 L1138.3,848 L1138.3,766 L1137.9,758 L1137.9,615 L1138.2,602 L1139.0,588 L1140.2,572 L1140.0,515 L1138.9,505 L1138.9,428 L1139.2,420 L1139.1,392 L1138.6,388 L1139.2,385 L1140.2,375 L1139.1,350 L1138.5,338 L1137.9,330 L1137.9,252 L1138.3,240 L1137.9,230 L1138.2,199 L1139.8,192 L1139.5,179 L1138.5,175 L1137.8,171 L1138.5,165 L1139.0,130 L1139.2,95 L1139.4,51Z" fill="url(#g9h)" filter="url(#b2)" opacity="0.9"/>
<path d="M1134,51 L1141.2,51 L1139.8,75 L1137.6,96 L1136,100 Z" fill="#f848b7" filter="url(#b2)"/>
<path d="M1136,51 L1139.3,51 L1138.2,78 L1136,92 Z" fill="#ffce31" filter="url(#b1)"/>
<path d="M1132.8,51 L1132.9,95 L1133.1,130 L1133.5,165 L1134.0,171 L1133.5,175 L1132.7,179 L1132.5,192 L1133.7,199 L1133.9,230 L1133.6,240 L1133.9,252 L1133.9,330 L1133.5,338 L1133.0,350 L1132.2,375 L1132.9,385 L1133.4,388 L1133.0,392 L1132.9,420 L1133.2,428 L1133.2,505 L1132.3,515 L1132.2,572 L1133.1,588 L1133.7,602 L1133.9,615 L1133.9,758 L1133.6,766 L1133.6,848 L1134.0,856 L1134.1,975 L1135.3,975 L1135.4,856 L1135.8,848 L1135.8,766 L1135.5,758 L1135.5,615 L1135.7,602 L1136.3,588 L1137.2,572 L1137.1,515 L1136.2,505 L1136.2,428 L1136.5,420 L1136.4,392 L1136.0,388 L1136.5,385 L1137.2,375 L1136.4,350 L1135.9,338 L1135.5,330 L1135.5,252 L1135.8,240 L1135.5,230 L1135.7,199 L1136.9,192 L1136.7,179 L1135.9,175 L1135.4,171 L1135.9,165 L1136.3,130 L1136.5,95 L1136.6,51Z" fill="url(#g9)" filter="url(#b1)"/>
<ellipse cx="1137.2" cy="187" rx="3" ry="4.5" fill="#ff6699" filter="url(#b2)"/>
<path d="M1728.0,51 L1728.4,80 L1729.2,93 L1729.6,99 L1729.6,126 L1729.0,134 L1729.0,160 L1729.6,166 L1730.0,169 L1729.5,176 L1728.9,183 L1728.4,194 L1728.9,225 L1729.3,240 L1729.6,252 L1729.8,328 L1729.4,334 L1729.4,384 L1729.8,390 L1729.9,975 L1734.9,975 L1735.0,390 L1735.4,384 L1735.4,334 L1735.0,328 L1735.2,252 L1735.5,240 L1735.9,225 L1736.4,194 L1735.9,183 L1735.3,176 L1734.8,169 L1735.2,166 L1735.8,160 L1735.8,134 L1735.2,126 L1735.2,99 L1735.6,93 L1736.4,80 L1736.8,51Z" fill="url(#g14)" filter="url(#b2)" opacity="0.5"/>
<path d="M1729.2,51 L1736.6,51 L1735.6,80 L1733.6,97 L1731.4,97 L1730.2,80 Z" fill="#d532cd" filter="url(#b2)" opacity="0.9"/>
<ellipse cx="1730.3" cy="196" rx="2.2" ry="6" fill="#d532cd" filter="url(#b2)" opacity="0.9"/>
<path d="M1730.2,51 L1730.6,80 L1731.2,93 L1731.6,99 L1731.6,126 L1731.1,134 L1731.1,160 L1731.6,166 L1731.9,169 L1731.5,176 L1731.0,183 L1730.6,194 L1731.0,225 L1731.3,240 L1731.6,252 L1731.7,328 L1731.4,334 L1731.4,384 L1731.7,390 L1731.8,975 L1733.0,975 L1733.1,390 L1733.4,384 L1733.4,334 L1733.1,328 L1733.2,252 L1733.5,240 L1733.8,225 L1734.2,194 L1733.8,183 L1733.3,176 L1732.9,169 L1733.2,166 L1733.7,160 L1733.7,134 L1733.2,126 L1733.2,99 L1733.6,93 L1734.2,80 L1734.6,51Z" fill="url(#g14)" filter="url(#b1)"/>
<path d="M900.3,51 L908.7,51 L907.2,98 L906.3,165 L902.5,165 L902,98 Z" fill="#0100ff" opacity="0.8" filter="url(#b2)"/>
<rect x="902.4" y="51" width="4" height="924" fill="url(#g7)" filter="url(#b1)"/>
<rect x="1279" y="330" width="2.2" height="270" fill="#0000e4" opacity="0.45" filter="url(#b1)"/>
<rect x="1440.4" y="330" width="1.5" height="300" fill="#0000e8" opacity="0.45" filter="url(#b1)"/>
<rect x="639" y="358" width="1.6" height="250" fill="#0000d8" opacity="0.5"/>
</g>
</g>
</g>
<rect x="121.35" y="51.5" width="1674.1" height="924.0" fill="none" stroke="#000" stroke-width="1.22"/>
<line x1="121.6" x2="121.6" y1="975.55" y2="981.4" stroke="#000" stroke-width="1.22"/>
<text transform="translate(121.6,1010.3) scale(0.96,1)" font-size="30.56" text-anchor="middle">13:00</text>
<line x1="233.2" x2="233.2" y1="975.55" y2="981.4" stroke="#000" stroke-width="1.22"/>
<text transform="translate(233.2,1010.3) scale(0.96,1)" font-size="30.56" text-anchor="middle">13:01</text>
<line x1="344.8" x2="344.8" y1="975.55" y2="981.4" stroke="#000" stroke-width="1.22"/>
<text transform="translate(344.8,1010.3) scale(0.96,1)" font-size="30.56" text-anchor="middle">13:02</text>
<line x1="456.4" x2="456.4" y1="975.55" y2="981.4" stroke="#000" stroke-width="1.22"/>
<text transform="translate(456.4,1010.3) scale(0.96,1)" font-size="30.56" text-anchor="middle">13:03</text>
<line x1="568.0" x2="568.0" y1="975.55" y2="981.4" stroke="#000" stroke-width="1.22"/>
<text transform="translate(568.0,1010.3) scale(0.96,1)" font-size="30.56" text-anchor="middle">13:04</text>
<line x1="679.6" x2="679.6" y1="975.55" y2="981.4" stroke="#000" stroke-width="1.22"/>
<text transform="translate(679.6,1010.3) scale(0.96,1)" font-size="30.56" text-anchor="middle">13:05</text>
<line x1="791.2" x2="791.2" y1="975.55" y2="981.4" stroke="#000" stroke-width="1.22"/>
<text transform="translate(791.2,1010.3) scale(0.96,1)" font-size="30.56" text-anchor="middle">13:06</text>
<line x1="902.8" x2="902.8" y1="975.55" y2="981.4" stroke="#000" stroke-width="1.22"/>
<text transform="translate(902.8,1010.3) scale(0.96,1)" font-size="30.56" text-anchor="middle">13:07</text>
<line x1="1014.4" x2="1014.4" y1="975.55" y2="981.4" stroke="#000" stroke-width="1.22"/>
<text transform="translate(1014.4,1010.3) scale(0.96,1)" font-size="30.56" text-anchor="middle">13:08</text>
<line x1="1126.0" x2="1126.0" y1="975.55" y2="981.4" stroke="#000" stroke-width="1.22"/>
<text transform="translate(1126.0,1010.3) scale(0.96,1)" font-size="30.56" text-anchor="middle">13:09</text>
<line x1="1237.6" x2="1237.6" y1="975.55" y2="981.4" stroke="#000" stroke-width="1.22"/>
<text transform="translate(1237.6,1010.3) scale(0.96,1)" font-size="30.56" text-anchor="middle">13:10</text>
<line x1="1349.2" x2="1349.2" y1="975.55" y2="981.4" stroke="#000" stroke-width="1.22"/>
<text transform="translate(1349.2,1010.3) scale(0.96,1)" font-size="30.56" text-anchor="middle">13:11</text>
<line x1="1460.8" x2="1460.8" y1="975.55" y2="981.4" stroke="#000" stroke-width="1.22"/>
<text transform="translate(1460.8,1010.3) scale(0.96,1)" font-size="30.56" text-anchor="middle">13:12</text>
<line x1="1572.4" x2="1572.4" y1="975.55" y2="981.4" stroke="#000" stroke-width="1.22"/>
<text transform="translate(1572.4,1010.3) scale(0.96,1)" font-size="30.56" text-anchor="middle">13:13</text>
<line x1="1684.0" x2="1684.0" y1="975.55" y2="981.4" stroke="#000" stroke-width="1.22"/>
<text transform="translate(1684.0,1010.3) scale(0.96,1)" font-size="30.56" text-anchor="middle">13:14</text>
<line x1="115.4" x2="121.35" y1="903.4" y2="903.4" stroke="#000" stroke-width="1.22"/>
<text transform="translate(108.8,915.0) scale(0.967,1)" font-size="30.56" text-anchor="end">60</text>
<line x1="115.4" x2="121.35" y1="800.6" y2="800.6" stroke="#000" stroke-width="1.22"/>
<text transform="translate(108.8,812.2) scale(0.967,1)" font-size="30.56" text-anchor="end">80</text>
<line x1="115.4" x2="121.35" y1="697.9" y2="697.9" stroke="#000" stroke-width="1.22"/>
<text transform="translate(108.8,709.5) scale(0.967,1)" font-size="30.56" text-anchor="end">100</text>
<line x1="115.4" x2="121.35" y1="595.1" y2="595.1" stroke="#000" stroke-width="1.22"/>
<text transform="translate(108.8,606.7) scale(0.967,1)" font-size="30.56" text-anchor="end">120</text>
<line x1="115.4" x2="121.35" y1="492.3" y2="492.3" stroke="#000" stroke-width="1.22"/>
<text transform="translate(108.8,503.9) scale(0.967,1)" font-size="30.56" text-anchor="end">140</text>
<line x1="115.4" x2="121.35" y1="389.5" y2="389.5" stroke="#000" stroke-width="1.22"/>
<text transform="translate(108.8,401.1) scale(0.967,1)" font-size="30.56" text-anchor="end">160</text>
<line x1="115.4" x2="121.35" y1="286.8" y2="286.8" stroke="#000" stroke-width="1.22"/>
<text transform="translate(108.8,298.4) scale(0.967,1)" font-size="30.56" text-anchor="end">180</text>
<line x1="115.4" x2="121.35" y1="184.0" y2="184.0" stroke="#000" stroke-width="1.22"/>
<text transform="translate(108.8,195.6) scale(0.967,1)" font-size="30.56" text-anchor="end">200</text>
<line x1="115.4" x2="121.35" y1="81.2" y2="81.2" stroke="#000" stroke-width="1.22"/>
<text transform="translate(108.8,92.8) scale(0.967,1)" font-size="30.56" text-anchor="end">220</text>
<text x="957.3" y="40.8" font-size="36.67" text-anchor="middle" xml:space="preserve" style="white-space:pre">2026/01/27  Radio flux density, e-CALLISTO (MEXART), Focuscode: 59</text>
<text x="958.5" y="1048.4" font-size="33.6" text-anchor="middle">Observation time [UTC]</text>
<text transform="translate(36.5,513.2) rotate(-90)" font-size="33.6" text-anchor="middle">Frequency [MHz]</text>
<rect x="1935.0" y="26.2" width="43.6" height="961.3" fill="url(#cb)" stroke="#000" stroke-width="1.22"/>
<line x1="1978.6" x2="1984.5" y1="987.5" y2="987.5" stroke="#000" stroke-width="1.22"/>
<text transform="translate(1990.2,993.3) scale(1.09,1)" font-size="15.28">−2</text>
<line x1="1978.6" x2="1984.5" y1="874.4" y2="874.4" stroke="#000" stroke-width="1.22"/>
<text transform="translate(1990.2,880.2) scale(1.09,1)" font-size="15.28">0</text>
<line x1="1978.6" x2="1984.5" y1="761.3" y2="761.3" stroke="#000" stroke-width="1.22"/>
<text transform="translate(1990.2,767.1) scale(1.09,1)" font-size="15.28">2</text>
<line x1="1978.6" x2="1984.5" y1="648.2" y2="648.2" stroke="#000" stroke-width="1.22"/>
<text transform="translate(1990.2,654.0) scale(1.09,1)" font-size="15.28">4</text>
<line x1="1978.6" x2="1984.5" y1="535.1" y2="535.1" stroke="#000" stroke-width="1.22"/>
<text transform="translate(1990.2,540.9) scale(1.09,1)" font-size="15.28">6</text>
<line x1="1978.6" x2="1984.5" y1="422.0" y2="422.0" stroke="#000" stroke-width="1.22"/>
<text transform="translate(1990.2,427.8) scale(1.09,1)" font-size="15.28">8</text>
<line x1="1978.6" x2="1984.5" y1="308.9" y2="308.9" stroke="#000" stroke-width="1.22"/>
<text transform="translate(1990.2,314.7) scale(1.09,1)" font-size="15.28">10</text>
<line x1="1978.6" x2="1984.5" y1="195.8" y2="195.8" stroke="#000" stroke-width="1.22"/>
<text transform="translate(1990.2,201.6) scale(1.09,1)" font-size="15.28">12</text>
<line x1="1978.6" x2="1984.5" y1="82.7" y2="82.7" stroke="#000" stroke-width="1.22"/>
<text transform="translate(1990.2,88.5) scale(1.09,1)" font-size="15.28">14</text>
<text transform="translate(2045.5,508.7) rotate(-90)" font-size="33.6" text-anchor="middle">dB above background</text>
</svg></body></html>
